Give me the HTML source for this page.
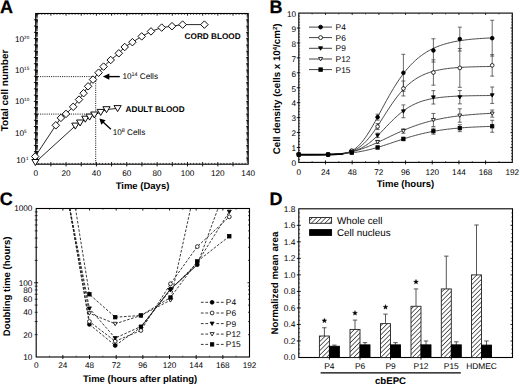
<!DOCTYPE html>
<html><head><meta charset="utf-8"><style>
html,body{margin:0;padding:0;background:#fff;}
svg{display:block;}
text{font-family:"Liberation Sans", sans-serif;fill:#000;text-rendering:geometricPrecision;}
</style></head><body>
<svg width="520" height="386" viewBox="0 0 520 386">
<rect width="520" height="386" fill="#fff"/>
<text x="0.00" y="12.90" font-size="18" font-weight="bold" text-anchor="start" stroke="#000" stroke-width="0.25">A</text>
<text x="269.60" y="12.90" font-size="18" font-weight="bold" text-anchor="start" stroke="#000" stroke-width="0.25">B</text>
<text x="-0.20" y="204.90" font-size="18" font-weight="bold" text-anchor="start" stroke="#000" stroke-width="0.25">C</text>
<text x="269.60" y="204.90" font-size="18" font-weight="bold" text-anchor="start" stroke="#000" stroke-width="0.25">D</text>
<line x1="38.74" y1="13.50" x2="38.74" y2="14.80" stroke="#222" stroke-width="0.8" />
<line x1="38.74" y1="164.20" x2="38.74" y2="162.90" stroke="#222" stroke-width="0.8" />
<line x1="41.77" y1="13.50" x2="41.77" y2="14.80" stroke="#222" stroke-width="0.8" />
<line x1="41.77" y1="164.20" x2="41.77" y2="162.90" stroke="#222" stroke-width="0.8" />
<line x1="44.81" y1="13.50" x2="44.81" y2="14.80" stroke="#222" stroke-width="0.8" />
<line x1="44.81" y1="164.20" x2="44.81" y2="162.90" stroke="#222" stroke-width="0.8" />
<line x1="47.84" y1="13.50" x2="47.84" y2="14.80" stroke="#222" stroke-width="0.8" />
<line x1="47.84" y1="164.20" x2="47.84" y2="162.90" stroke="#222" stroke-width="0.8" />
<line x1="53.91" y1="13.50" x2="53.91" y2="14.80" stroke="#222" stroke-width="0.8" />
<line x1="53.91" y1="164.20" x2="53.91" y2="162.90" stroke="#222" stroke-width="0.8" />
<line x1="56.95" y1="13.50" x2="56.95" y2="14.80" stroke="#222" stroke-width="0.8" />
<line x1="56.95" y1="164.20" x2="56.95" y2="162.90" stroke="#222" stroke-width="0.8" />
<line x1="59.99" y1="13.50" x2="59.99" y2="14.80" stroke="#222" stroke-width="0.8" />
<line x1="59.99" y1="164.20" x2="59.99" y2="162.90" stroke="#222" stroke-width="0.8" />
<line x1="63.02" y1="13.50" x2="63.02" y2="14.80" stroke="#222" stroke-width="0.8" />
<line x1="63.02" y1="164.20" x2="63.02" y2="162.90" stroke="#222" stroke-width="0.8" />
<line x1="69.09" y1="13.50" x2="69.09" y2="14.80" stroke="#222" stroke-width="0.8" />
<line x1="69.09" y1="164.20" x2="69.09" y2="162.90" stroke="#222" stroke-width="0.8" />
<line x1="72.13" y1="13.50" x2="72.13" y2="14.80" stroke="#222" stroke-width="0.8" />
<line x1="72.13" y1="164.20" x2="72.13" y2="162.90" stroke="#222" stroke-width="0.8" />
<line x1="75.16" y1="13.50" x2="75.16" y2="14.80" stroke="#222" stroke-width="0.8" />
<line x1="75.16" y1="164.20" x2="75.16" y2="162.90" stroke="#222" stroke-width="0.8" />
<line x1="78.20" y1="13.50" x2="78.20" y2="14.80" stroke="#222" stroke-width="0.8" />
<line x1="78.20" y1="164.20" x2="78.20" y2="162.90" stroke="#222" stroke-width="0.8" />
<line x1="84.27" y1="13.50" x2="84.27" y2="14.80" stroke="#222" stroke-width="0.8" />
<line x1="84.27" y1="164.20" x2="84.27" y2="162.90" stroke="#222" stroke-width="0.8" />
<line x1="87.31" y1="13.50" x2="87.31" y2="14.80" stroke="#222" stroke-width="0.8" />
<line x1="87.31" y1="164.20" x2="87.31" y2="162.90" stroke="#222" stroke-width="0.8" />
<line x1="90.34" y1="13.50" x2="90.34" y2="14.80" stroke="#222" stroke-width="0.8" />
<line x1="90.34" y1="164.20" x2="90.34" y2="162.90" stroke="#222" stroke-width="0.8" />
<line x1="93.38" y1="13.50" x2="93.38" y2="14.80" stroke="#222" stroke-width="0.8" />
<line x1="93.38" y1="164.20" x2="93.38" y2="162.90" stroke="#222" stroke-width="0.8" />
<line x1="99.45" y1="13.50" x2="99.45" y2="14.80" stroke="#222" stroke-width="0.8" />
<line x1="99.45" y1="164.20" x2="99.45" y2="162.90" stroke="#222" stroke-width="0.8" />
<line x1="102.49" y1="13.50" x2="102.49" y2="14.80" stroke="#222" stroke-width="0.8" />
<line x1="102.49" y1="164.20" x2="102.49" y2="162.90" stroke="#222" stroke-width="0.8" />
<line x1="105.52" y1="13.50" x2="105.52" y2="14.80" stroke="#222" stroke-width="0.8" />
<line x1="105.52" y1="164.20" x2="105.52" y2="162.90" stroke="#222" stroke-width="0.8" />
<line x1="108.56" y1="13.50" x2="108.56" y2="14.80" stroke="#222" stroke-width="0.8" />
<line x1="108.56" y1="164.20" x2="108.56" y2="162.90" stroke="#222" stroke-width="0.8" />
<line x1="114.63" y1="13.50" x2="114.63" y2="14.80" stroke="#222" stroke-width="0.8" />
<line x1="114.63" y1="164.20" x2="114.63" y2="162.90" stroke="#222" stroke-width="0.8" />
<line x1="117.66" y1="13.50" x2="117.66" y2="14.80" stroke="#222" stroke-width="0.8" />
<line x1="117.66" y1="164.20" x2="117.66" y2="162.90" stroke="#222" stroke-width="0.8" />
<line x1="120.70" y1="13.50" x2="120.70" y2="14.80" stroke="#222" stroke-width="0.8" />
<line x1="120.70" y1="164.20" x2="120.70" y2="162.90" stroke="#222" stroke-width="0.8" />
<line x1="123.74" y1="13.50" x2="123.74" y2="14.80" stroke="#222" stroke-width="0.8" />
<line x1="123.74" y1="164.20" x2="123.74" y2="162.90" stroke="#222" stroke-width="0.8" />
<line x1="129.81" y1="13.50" x2="129.81" y2="14.80" stroke="#222" stroke-width="0.8" />
<line x1="129.81" y1="164.20" x2="129.81" y2="162.90" stroke="#222" stroke-width="0.8" />
<line x1="132.84" y1="13.50" x2="132.84" y2="14.80" stroke="#222" stroke-width="0.8" />
<line x1="132.84" y1="164.20" x2="132.84" y2="162.90" stroke="#222" stroke-width="0.8" />
<line x1="135.88" y1="13.50" x2="135.88" y2="14.80" stroke="#222" stroke-width="0.8" />
<line x1="135.88" y1="164.20" x2="135.88" y2="162.90" stroke="#222" stroke-width="0.8" />
<line x1="138.91" y1="13.50" x2="138.91" y2="14.80" stroke="#222" stroke-width="0.8" />
<line x1="138.91" y1="164.20" x2="138.91" y2="162.90" stroke="#222" stroke-width="0.8" />
<line x1="144.99" y1="13.50" x2="144.99" y2="14.80" stroke="#222" stroke-width="0.8" />
<line x1="144.99" y1="164.20" x2="144.99" y2="162.90" stroke="#222" stroke-width="0.8" />
<line x1="148.02" y1="13.50" x2="148.02" y2="14.80" stroke="#222" stroke-width="0.8" />
<line x1="148.02" y1="164.20" x2="148.02" y2="162.90" stroke="#222" stroke-width="0.8" />
<line x1="151.06" y1="13.50" x2="151.06" y2="14.80" stroke="#222" stroke-width="0.8" />
<line x1="151.06" y1="164.20" x2="151.06" y2="162.90" stroke="#222" stroke-width="0.8" />
<line x1="154.09" y1="13.50" x2="154.09" y2="14.80" stroke="#222" stroke-width="0.8" />
<line x1="154.09" y1="164.20" x2="154.09" y2="162.90" stroke="#222" stroke-width="0.8" />
<line x1="160.16" y1="13.50" x2="160.16" y2="14.80" stroke="#222" stroke-width="0.8" />
<line x1="160.16" y1="164.20" x2="160.16" y2="162.90" stroke="#222" stroke-width="0.8" />
<line x1="163.20" y1="13.50" x2="163.20" y2="14.80" stroke="#222" stroke-width="0.8" />
<line x1="163.20" y1="164.20" x2="163.20" y2="162.90" stroke="#222" stroke-width="0.8" />
<line x1="166.24" y1="13.50" x2="166.24" y2="14.80" stroke="#222" stroke-width="0.8" />
<line x1="166.24" y1="164.20" x2="166.24" y2="162.90" stroke="#222" stroke-width="0.8" />
<line x1="169.27" y1="13.50" x2="169.27" y2="14.80" stroke="#222" stroke-width="0.8" />
<line x1="169.27" y1="164.20" x2="169.27" y2="162.90" stroke="#222" stroke-width="0.8" />
<line x1="175.34" y1="13.50" x2="175.34" y2="14.80" stroke="#222" stroke-width="0.8" />
<line x1="175.34" y1="164.20" x2="175.34" y2="162.90" stroke="#222" stroke-width="0.8" />
<line x1="178.38" y1="13.50" x2="178.38" y2="14.80" stroke="#222" stroke-width="0.8" />
<line x1="178.38" y1="164.20" x2="178.38" y2="162.90" stroke="#222" stroke-width="0.8" />
<line x1="181.41" y1="13.50" x2="181.41" y2="14.80" stroke="#222" stroke-width="0.8" />
<line x1="181.41" y1="164.20" x2="181.41" y2="162.90" stroke="#222" stroke-width="0.8" />
<line x1="184.45" y1="13.50" x2="184.45" y2="14.80" stroke="#222" stroke-width="0.8" />
<line x1="184.45" y1="164.20" x2="184.45" y2="162.90" stroke="#222" stroke-width="0.8" />
<line x1="190.52" y1="13.50" x2="190.52" y2="14.80" stroke="#222" stroke-width="0.8" />
<line x1="190.52" y1="164.20" x2="190.52" y2="162.90" stroke="#222" stroke-width="0.8" />
<line x1="193.56" y1="13.50" x2="193.56" y2="14.80" stroke="#222" stroke-width="0.8" />
<line x1="193.56" y1="164.20" x2="193.56" y2="162.90" stroke="#222" stroke-width="0.8" />
<line x1="196.59" y1="13.50" x2="196.59" y2="14.80" stroke="#222" stroke-width="0.8" />
<line x1="196.59" y1="164.20" x2="196.59" y2="162.90" stroke="#222" stroke-width="0.8" />
<line x1="199.63" y1="13.50" x2="199.63" y2="14.80" stroke="#222" stroke-width="0.8" />
<line x1="199.63" y1="164.20" x2="199.63" y2="162.90" stroke="#222" stroke-width="0.8" />
<line x1="205.70" y1="13.50" x2="205.70" y2="14.80" stroke="#222" stroke-width="0.8" />
<line x1="205.70" y1="164.20" x2="205.70" y2="162.90" stroke="#222" stroke-width="0.8" />
<line x1="208.74" y1="13.50" x2="208.74" y2="14.80" stroke="#222" stroke-width="0.8" />
<line x1="208.74" y1="164.20" x2="208.74" y2="162.90" stroke="#222" stroke-width="0.8" />
<line x1="211.77" y1="13.50" x2="211.77" y2="14.80" stroke="#222" stroke-width="0.8" />
<line x1="211.77" y1="164.20" x2="211.77" y2="162.90" stroke="#222" stroke-width="0.8" />
<line x1="214.81" y1="13.50" x2="214.81" y2="14.80" stroke="#222" stroke-width="0.8" />
<line x1="214.81" y1="164.20" x2="214.81" y2="162.90" stroke="#222" stroke-width="0.8" />
<line x1="220.88" y1="13.50" x2="220.88" y2="14.80" stroke="#222" stroke-width="0.8" />
<line x1="220.88" y1="164.20" x2="220.88" y2="162.90" stroke="#222" stroke-width="0.8" />
<line x1="223.91" y1="13.50" x2="223.91" y2="14.80" stroke="#222" stroke-width="0.8" />
<line x1="223.91" y1="164.20" x2="223.91" y2="162.90" stroke="#222" stroke-width="0.8" />
<line x1="226.95" y1="13.50" x2="226.95" y2="14.80" stroke="#222" stroke-width="0.8" />
<line x1="226.95" y1="164.20" x2="226.95" y2="162.90" stroke="#222" stroke-width="0.8" />
<line x1="229.99" y1="13.50" x2="229.99" y2="14.80" stroke="#222" stroke-width="0.8" />
<line x1="229.99" y1="164.20" x2="229.99" y2="162.90" stroke="#222" stroke-width="0.8" />
<line x1="236.06" y1="13.50" x2="236.06" y2="14.80" stroke="#222" stroke-width="0.8" />
<line x1="236.06" y1="164.20" x2="236.06" y2="162.90" stroke="#222" stroke-width="0.8" />
<line x1="239.09" y1="13.50" x2="239.09" y2="14.80" stroke="#222" stroke-width="0.8" />
<line x1="239.09" y1="164.20" x2="239.09" y2="162.90" stroke="#222" stroke-width="0.8" />
<line x1="242.13" y1="13.50" x2="242.13" y2="14.80" stroke="#222" stroke-width="0.8" />
<line x1="242.13" y1="164.20" x2="242.13" y2="162.90" stroke="#222" stroke-width="0.8" />
<line x1="245.16" y1="13.50" x2="245.16" y2="14.80" stroke="#222" stroke-width="0.8" />
<line x1="245.16" y1="164.20" x2="245.16" y2="162.90" stroke="#222" stroke-width="0.8" />
<line x1="50.88" y1="162.00" x2="50.88" y2="166.40" stroke="#000" stroke-width="0.9" />
<line x1="50.88" y1="13.50" x2="50.88" y2="15.70" stroke="#000" stroke-width="0.9" />
<line x1="66.06" y1="162.00" x2="66.06" y2="166.40" stroke="#000" stroke-width="0.9" />
<line x1="66.06" y1="13.50" x2="66.06" y2="15.70" stroke="#000" stroke-width="0.9" />
<line x1="81.24" y1="162.00" x2="81.24" y2="166.40" stroke="#000" stroke-width="0.9" />
<line x1="81.24" y1="13.50" x2="81.24" y2="15.70" stroke="#000" stroke-width="0.9" />
<line x1="96.41" y1="162.00" x2="96.41" y2="166.40" stroke="#000" stroke-width="0.9" />
<line x1="96.41" y1="13.50" x2="96.41" y2="15.70" stroke="#000" stroke-width="0.9" />
<line x1="111.59" y1="162.00" x2="111.59" y2="166.40" stroke="#000" stroke-width="0.9" />
<line x1="111.59" y1="13.50" x2="111.59" y2="15.70" stroke="#000" stroke-width="0.9" />
<line x1="126.77" y1="162.00" x2="126.77" y2="166.40" stroke="#000" stroke-width="0.9" />
<line x1="126.77" y1="13.50" x2="126.77" y2="15.70" stroke="#000" stroke-width="0.9" />
<line x1="141.95" y1="162.00" x2="141.95" y2="166.40" stroke="#000" stroke-width="0.9" />
<line x1="141.95" y1="13.50" x2="141.95" y2="15.70" stroke="#000" stroke-width="0.9" />
<line x1="157.13" y1="162.00" x2="157.13" y2="166.40" stroke="#000" stroke-width="0.9" />
<line x1="157.13" y1="13.50" x2="157.13" y2="15.70" stroke="#000" stroke-width="0.9" />
<line x1="172.31" y1="162.00" x2="172.31" y2="166.40" stroke="#000" stroke-width="0.9" />
<line x1="172.31" y1="13.50" x2="172.31" y2="15.70" stroke="#000" stroke-width="0.9" />
<line x1="187.49" y1="162.00" x2="187.49" y2="166.40" stroke="#000" stroke-width="0.9" />
<line x1="187.49" y1="13.50" x2="187.49" y2="15.70" stroke="#000" stroke-width="0.9" />
<line x1="202.66" y1="162.00" x2="202.66" y2="166.40" stroke="#000" stroke-width="0.9" />
<line x1="202.66" y1="13.50" x2="202.66" y2="15.70" stroke="#000" stroke-width="0.9" />
<line x1="217.84" y1="162.00" x2="217.84" y2="166.40" stroke="#000" stroke-width="0.9" />
<line x1="217.84" y1="13.50" x2="217.84" y2="15.70" stroke="#000" stroke-width="0.9" />
<line x1="233.02" y1="162.00" x2="233.02" y2="166.40" stroke="#000" stroke-width="0.9" />
<line x1="233.02" y1="13.50" x2="233.02" y2="15.70" stroke="#000" stroke-width="0.9" />
<line x1="35.70" y1="162.31" x2="37.80" y2="162.31" stroke="#111" stroke-width="0.75" />
<line x1="248.20" y1="162.31" x2="246.80" y2="162.31" stroke="#222" stroke-width="0.7" />
<line x1="35.70" y1="161.20" x2="37.80" y2="161.20" stroke="#111" stroke-width="0.75" />
<line x1="248.20" y1="161.20" x2="246.80" y2="161.20" stroke="#222" stroke-width="0.7" />
<line x1="35.70" y1="160.42" x2="37.80" y2="160.42" stroke="#111" stroke-width="0.75" />
<line x1="248.20" y1="160.42" x2="246.80" y2="160.42" stroke="#222" stroke-width="0.7" />
<line x1="35.70" y1="159.81" x2="37.80" y2="159.81" stroke="#111" stroke-width="0.75" />
<line x1="248.20" y1="159.81" x2="246.80" y2="159.81" stroke="#222" stroke-width="0.7" />
<line x1="35.70" y1="159.31" x2="37.80" y2="159.31" stroke="#111" stroke-width="0.75" />
<line x1="248.20" y1="159.31" x2="246.80" y2="159.31" stroke="#222" stroke-width="0.7" />
<line x1="35.70" y1="158.89" x2="37.80" y2="158.89" stroke="#111" stroke-width="0.75" />
<line x1="248.20" y1="158.89" x2="246.80" y2="158.89" stroke="#222" stroke-width="0.7" />
<line x1="35.70" y1="158.53" x2="37.80" y2="158.53" stroke="#111" stroke-width="0.75" />
<line x1="248.20" y1="158.53" x2="246.80" y2="158.53" stroke="#222" stroke-width="0.7" />
<line x1="35.70" y1="158.21" x2="37.80" y2="158.21" stroke="#111" stroke-width="0.75" />
<line x1="248.20" y1="158.21" x2="246.80" y2="158.21" stroke="#222" stroke-width="0.7" />
<line x1="35.70" y1="156.03" x2="37.80" y2="156.03" stroke="#111" stroke-width="0.75" />
<line x1="248.20" y1="156.03" x2="246.80" y2="156.03" stroke="#222" stroke-width="0.7" />
<line x1="35.70" y1="154.92" x2="37.80" y2="154.92" stroke="#111" stroke-width="0.75" />
<line x1="248.20" y1="154.92" x2="246.80" y2="154.92" stroke="#222" stroke-width="0.7" />
<line x1="35.70" y1="154.14" x2="37.80" y2="154.14" stroke="#111" stroke-width="0.75" />
<line x1="248.20" y1="154.14" x2="246.80" y2="154.14" stroke="#222" stroke-width="0.7" />
<line x1="35.70" y1="153.53" x2="37.80" y2="153.53" stroke="#111" stroke-width="0.75" />
<line x1="248.20" y1="153.53" x2="246.80" y2="153.53" stroke="#222" stroke-width="0.7" />
<line x1="35.70" y1="153.03" x2="37.80" y2="153.03" stroke="#111" stroke-width="0.75" />
<line x1="248.20" y1="153.03" x2="246.80" y2="153.03" stroke="#222" stroke-width="0.7" />
<line x1="35.70" y1="152.61" x2="37.80" y2="152.61" stroke="#111" stroke-width="0.75" />
<line x1="248.20" y1="152.61" x2="246.80" y2="152.61" stroke="#222" stroke-width="0.7" />
<line x1="35.70" y1="152.25" x2="37.80" y2="152.25" stroke="#111" stroke-width="0.75" />
<line x1="248.20" y1="152.25" x2="246.80" y2="152.25" stroke="#222" stroke-width="0.7" />
<line x1="35.70" y1="151.93" x2="37.80" y2="151.93" stroke="#111" stroke-width="0.75" />
<line x1="248.20" y1="151.93" x2="246.80" y2="151.93" stroke="#222" stroke-width="0.7" />
<line x1="35.70" y1="149.75" x2="37.80" y2="149.75" stroke="#111" stroke-width="0.75" />
<line x1="248.20" y1="149.75" x2="246.80" y2="149.75" stroke="#222" stroke-width="0.7" />
<line x1="35.70" y1="148.65" x2="37.80" y2="148.65" stroke="#111" stroke-width="0.75" />
<line x1="248.20" y1="148.65" x2="246.80" y2="148.65" stroke="#222" stroke-width="0.7" />
<line x1="35.70" y1="147.86" x2="37.80" y2="147.86" stroke="#111" stroke-width="0.75" />
<line x1="248.20" y1="147.86" x2="246.80" y2="147.86" stroke="#222" stroke-width="0.7" />
<line x1="35.70" y1="147.25" x2="37.80" y2="147.25" stroke="#111" stroke-width="0.75" />
<line x1="248.20" y1="147.25" x2="246.80" y2="147.25" stroke="#222" stroke-width="0.7" />
<line x1="35.70" y1="146.76" x2="37.80" y2="146.76" stroke="#111" stroke-width="0.75" />
<line x1="248.20" y1="146.76" x2="246.80" y2="146.76" stroke="#222" stroke-width="0.7" />
<line x1="35.70" y1="146.34" x2="37.80" y2="146.34" stroke="#111" stroke-width="0.75" />
<line x1="248.20" y1="146.34" x2="246.80" y2="146.34" stroke="#222" stroke-width="0.7" />
<line x1="35.70" y1="145.97" x2="37.80" y2="145.97" stroke="#111" stroke-width="0.75" />
<line x1="248.20" y1="145.97" x2="246.80" y2="145.97" stroke="#222" stroke-width="0.7" />
<line x1="35.70" y1="145.65" x2="37.80" y2="145.65" stroke="#111" stroke-width="0.75" />
<line x1="248.20" y1="145.65" x2="246.80" y2="145.65" stroke="#222" stroke-width="0.7" />
<line x1="35.70" y1="143.47" x2="37.80" y2="143.47" stroke="#111" stroke-width="0.75" />
<line x1="248.20" y1="143.47" x2="246.80" y2="143.47" stroke="#222" stroke-width="0.7" />
<line x1="35.70" y1="142.37" x2="37.80" y2="142.37" stroke="#111" stroke-width="0.75" />
<line x1="248.20" y1="142.37" x2="246.80" y2="142.37" stroke="#222" stroke-width="0.7" />
<line x1="35.70" y1="141.58" x2="37.80" y2="141.58" stroke="#111" stroke-width="0.75" />
<line x1="248.20" y1="141.58" x2="246.80" y2="141.58" stroke="#222" stroke-width="0.7" />
<line x1="35.70" y1="140.97" x2="37.80" y2="140.97" stroke="#111" stroke-width="0.75" />
<line x1="248.20" y1="140.97" x2="246.80" y2="140.97" stroke="#222" stroke-width="0.7" />
<line x1="35.70" y1="140.48" x2="37.80" y2="140.48" stroke="#111" stroke-width="0.75" />
<line x1="248.20" y1="140.48" x2="246.80" y2="140.48" stroke="#222" stroke-width="0.7" />
<line x1="35.70" y1="140.06" x2="37.80" y2="140.06" stroke="#111" stroke-width="0.75" />
<line x1="248.20" y1="140.06" x2="246.80" y2="140.06" stroke="#222" stroke-width="0.7" />
<line x1="35.70" y1="139.69" x2="37.80" y2="139.69" stroke="#111" stroke-width="0.75" />
<line x1="248.20" y1="139.69" x2="246.80" y2="139.69" stroke="#222" stroke-width="0.7" />
<line x1="35.70" y1="139.37" x2="37.80" y2="139.37" stroke="#111" stroke-width="0.75" />
<line x1="248.20" y1="139.37" x2="246.80" y2="139.37" stroke="#222" stroke-width="0.7" />
<line x1="35.70" y1="137.19" x2="37.80" y2="137.19" stroke="#111" stroke-width="0.75" />
<line x1="248.20" y1="137.19" x2="246.80" y2="137.19" stroke="#222" stroke-width="0.7" />
<line x1="35.70" y1="136.09" x2="37.80" y2="136.09" stroke="#111" stroke-width="0.75" />
<line x1="248.20" y1="136.09" x2="246.80" y2="136.09" stroke="#222" stroke-width="0.7" />
<line x1="35.70" y1="135.30" x2="37.80" y2="135.30" stroke="#111" stroke-width="0.75" />
<line x1="248.20" y1="135.30" x2="246.80" y2="135.30" stroke="#222" stroke-width="0.7" />
<line x1="35.70" y1="134.69" x2="37.80" y2="134.69" stroke="#111" stroke-width="0.75" />
<line x1="248.20" y1="134.69" x2="246.80" y2="134.69" stroke="#222" stroke-width="0.7" />
<line x1="35.70" y1="134.20" x2="37.80" y2="134.20" stroke="#111" stroke-width="0.75" />
<line x1="248.20" y1="134.20" x2="246.80" y2="134.20" stroke="#222" stroke-width="0.7" />
<line x1="35.70" y1="133.78" x2="37.80" y2="133.78" stroke="#111" stroke-width="0.75" />
<line x1="248.20" y1="133.78" x2="246.80" y2="133.78" stroke="#222" stroke-width="0.7" />
<line x1="35.70" y1="133.41" x2="37.80" y2="133.41" stroke="#111" stroke-width="0.75" />
<line x1="248.20" y1="133.41" x2="246.80" y2="133.41" stroke="#222" stroke-width="0.7" />
<line x1="35.70" y1="133.09" x2="37.80" y2="133.09" stroke="#111" stroke-width="0.75" />
<line x1="248.20" y1="133.09" x2="246.80" y2="133.09" stroke="#222" stroke-width="0.7" />
<line x1="35.70" y1="130.91" x2="37.80" y2="130.91" stroke="#111" stroke-width="0.75" />
<line x1="248.20" y1="130.91" x2="246.80" y2="130.91" stroke="#222" stroke-width="0.7" />
<line x1="35.70" y1="129.81" x2="37.80" y2="129.81" stroke="#111" stroke-width="0.75" />
<line x1="248.20" y1="129.81" x2="246.80" y2="129.81" stroke="#222" stroke-width="0.7" />
<line x1="35.70" y1="129.02" x2="37.80" y2="129.02" stroke="#111" stroke-width="0.75" />
<line x1="248.20" y1="129.02" x2="246.80" y2="129.02" stroke="#222" stroke-width="0.7" />
<line x1="35.70" y1="128.42" x2="37.80" y2="128.42" stroke="#111" stroke-width="0.75" />
<line x1="248.20" y1="128.42" x2="246.80" y2="128.42" stroke="#222" stroke-width="0.7" />
<line x1="35.70" y1="127.92" x2="37.80" y2="127.92" stroke="#111" stroke-width="0.75" />
<line x1="248.20" y1="127.92" x2="246.80" y2="127.92" stroke="#222" stroke-width="0.7" />
<line x1="35.70" y1="127.50" x2="37.80" y2="127.50" stroke="#111" stroke-width="0.75" />
<line x1="248.20" y1="127.50" x2="246.80" y2="127.50" stroke="#222" stroke-width="0.7" />
<line x1="35.70" y1="127.13" x2="37.80" y2="127.13" stroke="#111" stroke-width="0.75" />
<line x1="248.20" y1="127.13" x2="246.80" y2="127.13" stroke="#222" stroke-width="0.7" />
<line x1="35.70" y1="126.81" x2="37.80" y2="126.81" stroke="#111" stroke-width="0.75" />
<line x1="248.20" y1="126.81" x2="246.80" y2="126.81" stroke="#222" stroke-width="0.7" />
<line x1="35.70" y1="124.63" x2="37.80" y2="124.63" stroke="#111" stroke-width="0.75" />
<line x1="248.20" y1="124.63" x2="246.80" y2="124.63" stroke="#222" stroke-width="0.7" />
<line x1="35.70" y1="123.53" x2="37.80" y2="123.53" stroke="#111" stroke-width="0.75" />
<line x1="248.20" y1="123.53" x2="246.80" y2="123.53" stroke="#222" stroke-width="0.7" />
<line x1="35.70" y1="122.74" x2="37.80" y2="122.74" stroke="#111" stroke-width="0.75" />
<line x1="248.20" y1="122.74" x2="246.80" y2="122.74" stroke="#222" stroke-width="0.7" />
<line x1="35.70" y1="122.14" x2="37.80" y2="122.14" stroke="#111" stroke-width="0.75" />
<line x1="248.20" y1="122.14" x2="246.80" y2="122.14" stroke="#222" stroke-width="0.7" />
<line x1="35.70" y1="121.64" x2="37.80" y2="121.64" stroke="#111" stroke-width="0.75" />
<line x1="248.20" y1="121.64" x2="246.80" y2="121.64" stroke="#222" stroke-width="0.7" />
<line x1="35.70" y1="121.22" x2="37.80" y2="121.22" stroke="#111" stroke-width="0.75" />
<line x1="248.20" y1="121.22" x2="246.80" y2="121.22" stroke="#222" stroke-width="0.7" />
<line x1="35.70" y1="120.85" x2="37.80" y2="120.85" stroke="#111" stroke-width="0.75" />
<line x1="248.20" y1="120.85" x2="246.80" y2="120.85" stroke="#222" stroke-width="0.7" />
<line x1="35.70" y1="120.53" x2="37.80" y2="120.53" stroke="#111" stroke-width="0.75" />
<line x1="248.20" y1="120.53" x2="246.80" y2="120.53" stroke="#222" stroke-width="0.7" />
<line x1="35.70" y1="118.36" x2="37.80" y2="118.36" stroke="#111" stroke-width="0.75" />
<line x1="248.20" y1="118.36" x2="246.80" y2="118.36" stroke="#222" stroke-width="0.7" />
<line x1="35.70" y1="117.25" x2="37.80" y2="117.25" stroke="#111" stroke-width="0.75" />
<line x1="248.20" y1="117.25" x2="246.80" y2="117.25" stroke="#222" stroke-width="0.7" />
<line x1="35.70" y1="116.47" x2="37.80" y2="116.47" stroke="#111" stroke-width="0.75" />
<line x1="248.20" y1="116.47" x2="246.80" y2="116.47" stroke="#222" stroke-width="0.7" />
<line x1="35.70" y1="115.86" x2="37.80" y2="115.86" stroke="#111" stroke-width="0.75" />
<line x1="248.20" y1="115.86" x2="246.80" y2="115.86" stroke="#222" stroke-width="0.7" />
<line x1="35.70" y1="115.36" x2="37.80" y2="115.36" stroke="#111" stroke-width="0.75" />
<line x1="248.20" y1="115.36" x2="246.80" y2="115.36" stroke="#222" stroke-width="0.7" />
<line x1="35.70" y1="114.94" x2="37.80" y2="114.94" stroke="#111" stroke-width="0.75" />
<line x1="248.20" y1="114.94" x2="246.80" y2="114.94" stroke="#222" stroke-width="0.7" />
<line x1="35.70" y1="114.58" x2="37.80" y2="114.58" stroke="#111" stroke-width="0.75" />
<line x1="248.20" y1="114.58" x2="246.80" y2="114.58" stroke="#222" stroke-width="0.7" />
<line x1="35.70" y1="114.25" x2="37.80" y2="114.25" stroke="#111" stroke-width="0.75" />
<line x1="248.20" y1="114.25" x2="246.80" y2="114.25" stroke="#222" stroke-width="0.7" />
<line x1="35.70" y1="112.08" x2="37.80" y2="112.08" stroke="#111" stroke-width="0.75" />
<line x1="248.20" y1="112.08" x2="246.80" y2="112.08" stroke="#222" stroke-width="0.7" />
<line x1="35.70" y1="110.97" x2="37.80" y2="110.97" stroke="#111" stroke-width="0.75" />
<line x1="248.20" y1="110.97" x2="246.80" y2="110.97" stroke="#222" stroke-width="0.7" />
<line x1="35.70" y1="110.19" x2="37.80" y2="110.19" stroke="#111" stroke-width="0.75" />
<line x1="248.20" y1="110.19" x2="246.80" y2="110.19" stroke="#222" stroke-width="0.7" />
<line x1="35.70" y1="109.58" x2="37.80" y2="109.58" stroke="#111" stroke-width="0.75" />
<line x1="248.20" y1="109.58" x2="246.80" y2="109.58" stroke="#222" stroke-width="0.7" />
<line x1="35.70" y1="109.08" x2="37.80" y2="109.08" stroke="#111" stroke-width="0.75" />
<line x1="248.20" y1="109.08" x2="246.80" y2="109.08" stroke="#222" stroke-width="0.7" />
<line x1="35.70" y1="108.66" x2="37.80" y2="108.66" stroke="#111" stroke-width="0.75" />
<line x1="248.20" y1="108.66" x2="246.80" y2="108.66" stroke="#222" stroke-width="0.7" />
<line x1="35.70" y1="108.30" x2="37.80" y2="108.30" stroke="#111" stroke-width="0.75" />
<line x1="248.20" y1="108.30" x2="246.80" y2="108.30" stroke="#222" stroke-width="0.7" />
<line x1="35.70" y1="107.97" x2="37.80" y2="107.97" stroke="#111" stroke-width="0.75" />
<line x1="248.20" y1="107.97" x2="246.80" y2="107.97" stroke="#222" stroke-width="0.7" />
<line x1="35.70" y1="105.80" x2="37.80" y2="105.80" stroke="#111" stroke-width="0.75" />
<line x1="248.20" y1="105.80" x2="246.80" y2="105.80" stroke="#222" stroke-width="0.7" />
<line x1="35.70" y1="104.69" x2="37.80" y2="104.69" stroke="#111" stroke-width="0.75" />
<line x1="248.20" y1="104.69" x2="246.80" y2="104.69" stroke="#222" stroke-width="0.7" />
<line x1="35.70" y1="103.91" x2="37.80" y2="103.91" stroke="#111" stroke-width="0.75" />
<line x1="248.20" y1="103.91" x2="246.80" y2="103.91" stroke="#222" stroke-width="0.7" />
<line x1="35.70" y1="103.30" x2="37.80" y2="103.30" stroke="#111" stroke-width="0.75" />
<line x1="248.20" y1="103.30" x2="246.80" y2="103.30" stroke="#222" stroke-width="0.7" />
<line x1="35.70" y1="102.80" x2="37.80" y2="102.80" stroke="#111" stroke-width="0.75" />
<line x1="248.20" y1="102.80" x2="246.80" y2="102.80" stroke="#222" stroke-width="0.7" />
<line x1="35.70" y1="102.38" x2="37.80" y2="102.38" stroke="#111" stroke-width="0.75" />
<line x1="248.20" y1="102.38" x2="246.80" y2="102.38" stroke="#222" stroke-width="0.7" />
<line x1="35.70" y1="102.02" x2="37.80" y2="102.02" stroke="#111" stroke-width="0.75" />
<line x1="248.20" y1="102.02" x2="246.80" y2="102.02" stroke="#222" stroke-width="0.7" />
<line x1="35.70" y1="101.70" x2="37.80" y2="101.70" stroke="#111" stroke-width="0.75" />
<line x1="248.20" y1="101.70" x2="246.80" y2="101.70" stroke="#222" stroke-width="0.7" />
<line x1="35.70" y1="99.52" x2="37.80" y2="99.52" stroke="#111" stroke-width="0.75" />
<line x1="248.20" y1="99.52" x2="246.80" y2="99.52" stroke="#222" stroke-width="0.7" />
<line x1="35.70" y1="98.41" x2="37.80" y2="98.41" stroke="#111" stroke-width="0.75" />
<line x1="248.20" y1="98.41" x2="246.80" y2="98.41" stroke="#222" stroke-width="0.7" />
<line x1="35.70" y1="97.63" x2="37.80" y2="97.63" stroke="#111" stroke-width="0.75" />
<line x1="248.20" y1="97.63" x2="246.80" y2="97.63" stroke="#222" stroke-width="0.7" />
<line x1="35.70" y1="97.02" x2="37.80" y2="97.02" stroke="#111" stroke-width="0.75" />
<line x1="248.20" y1="97.02" x2="246.80" y2="97.02" stroke="#222" stroke-width="0.7" />
<line x1="35.70" y1="96.52" x2="37.80" y2="96.52" stroke="#111" stroke-width="0.75" />
<line x1="248.20" y1="96.52" x2="246.80" y2="96.52" stroke="#222" stroke-width="0.7" />
<line x1="35.70" y1="96.10" x2="37.80" y2="96.10" stroke="#111" stroke-width="0.75" />
<line x1="248.20" y1="96.10" x2="246.80" y2="96.10" stroke="#222" stroke-width="0.7" />
<line x1="35.70" y1="95.74" x2="37.80" y2="95.74" stroke="#111" stroke-width="0.75" />
<line x1="248.20" y1="95.74" x2="246.80" y2="95.74" stroke="#222" stroke-width="0.7" />
<line x1="35.70" y1="95.42" x2="37.80" y2="95.42" stroke="#111" stroke-width="0.75" />
<line x1="248.20" y1="95.42" x2="246.80" y2="95.42" stroke="#222" stroke-width="0.7" />
<line x1="35.70" y1="93.24" x2="37.80" y2="93.24" stroke="#111" stroke-width="0.75" />
<line x1="248.20" y1="93.24" x2="246.80" y2="93.24" stroke="#222" stroke-width="0.7" />
<line x1="35.70" y1="92.13" x2="37.80" y2="92.13" stroke="#111" stroke-width="0.75" />
<line x1="248.20" y1="92.13" x2="246.80" y2="92.13" stroke="#222" stroke-width="0.7" />
<line x1="35.70" y1="91.35" x2="37.80" y2="91.35" stroke="#111" stroke-width="0.75" />
<line x1="248.20" y1="91.35" x2="246.80" y2="91.35" stroke="#222" stroke-width="0.7" />
<line x1="35.70" y1="90.74" x2="37.80" y2="90.74" stroke="#111" stroke-width="0.75" />
<line x1="248.20" y1="90.74" x2="246.80" y2="90.74" stroke="#222" stroke-width="0.7" />
<line x1="35.70" y1="90.24" x2="37.80" y2="90.24" stroke="#111" stroke-width="0.75" />
<line x1="248.20" y1="90.24" x2="246.80" y2="90.24" stroke="#222" stroke-width="0.7" />
<line x1="35.70" y1="89.82" x2="37.80" y2="89.82" stroke="#111" stroke-width="0.75" />
<line x1="248.20" y1="89.82" x2="246.80" y2="89.82" stroke="#222" stroke-width="0.7" />
<line x1="35.70" y1="89.46" x2="37.80" y2="89.46" stroke="#111" stroke-width="0.75" />
<line x1="248.20" y1="89.46" x2="246.80" y2="89.46" stroke="#222" stroke-width="0.7" />
<line x1="35.70" y1="89.14" x2="37.80" y2="89.14" stroke="#111" stroke-width="0.75" />
<line x1="248.20" y1="89.14" x2="246.80" y2="89.14" stroke="#222" stroke-width="0.7" />
<line x1="35.70" y1="86.96" x2="37.80" y2="86.96" stroke="#111" stroke-width="0.75" />
<line x1="248.20" y1="86.96" x2="246.80" y2="86.96" stroke="#222" stroke-width="0.7" />
<line x1="35.70" y1="85.85" x2="37.80" y2="85.85" stroke="#111" stroke-width="0.75" />
<line x1="248.20" y1="85.85" x2="246.80" y2="85.85" stroke="#222" stroke-width="0.7" />
<line x1="35.70" y1="85.07" x2="37.80" y2="85.07" stroke="#111" stroke-width="0.75" />
<line x1="248.20" y1="85.07" x2="246.80" y2="85.07" stroke="#222" stroke-width="0.7" />
<line x1="35.70" y1="84.46" x2="37.80" y2="84.46" stroke="#111" stroke-width="0.75" />
<line x1="248.20" y1="84.46" x2="246.80" y2="84.46" stroke="#222" stroke-width="0.7" />
<line x1="35.70" y1="83.96" x2="37.80" y2="83.96" stroke="#111" stroke-width="0.75" />
<line x1="248.20" y1="83.96" x2="246.80" y2="83.96" stroke="#222" stroke-width="0.7" />
<line x1="35.70" y1="83.54" x2="37.80" y2="83.54" stroke="#111" stroke-width="0.75" />
<line x1="248.20" y1="83.54" x2="246.80" y2="83.54" stroke="#222" stroke-width="0.7" />
<line x1="35.70" y1="83.18" x2="37.80" y2="83.18" stroke="#111" stroke-width="0.75" />
<line x1="248.20" y1="83.18" x2="246.80" y2="83.18" stroke="#222" stroke-width="0.7" />
<line x1="35.70" y1="82.86" x2="37.80" y2="82.86" stroke="#111" stroke-width="0.75" />
<line x1="248.20" y1="82.86" x2="246.80" y2="82.86" stroke="#222" stroke-width="0.7" />
<line x1="35.70" y1="80.68" x2="37.80" y2="80.68" stroke="#111" stroke-width="0.75" />
<line x1="248.20" y1="80.68" x2="246.80" y2="80.68" stroke="#222" stroke-width="0.7" />
<line x1="35.70" y1="79.57" x2="37.80" y2="79.57" stroke="#111" stroke-width="0.75" />
<line x1="248.20" y1="79.57" x2="246.80" y2="79.57" stroke="#222" stroke-width="0.7" />
<line x1="35.70" y1="78.79" x2="37.80" y2="78.79" stroke="#111" stroke-width="0.75" />
<line x1="248.20" y1="78.79" x2="246.80" y2="78.79" stroke="#222" stroke-width="0.7" />
<line x1="35.70" y1="78.18" x2="37.80" y2="78.18" stroke="#111" stroke-width="0.75" />
<line x1="248.20" y1="78.18" x2="246.80" y2="78.18" stroke="#222" stroke-width="0.7" />
<line x1="35.70" y1="77.68" x2="37.80" y2="77.68" stroke="#111" stroke-width="0.75" />
<line x1="248.20" y1="77.68" x2="246.80" y2="77.68" stroke="#222" stroke-width="0.7" />
<line x1="35.70" y1="77.26" x2="37.80" y2="77.26" stroke="#111" stroke-width="0.75" />
<line x1="248.20" y1="77.26" x2="246.80" y2="77.26" stroke="#222" stroke-width="0.7" />
<line x1="35.70" y1="76.90" x2="37.80" y2="76.90" stroke="#111" stroke-width="0.75" />
<line x1="248.20" y1="76.90" x2="246.80" y2="76.90" stroke="#222" stroke-width="0.7" />
<line x1="35.70" y1="76.58" x2="37.80" y2="76.58" stroke="#111" stroke-width="0.75" />
<line x1="248.20" y1="76.58" x2="246.80" y2="76.58" stroke="#222" stroke-width="0.7" />
<line x1="35.70" y1="74.40" x2="37.80" y2="74.40" stroke="#111" stroke-width="0.75" />
<line x1="248.20" y1="74.40" x2="246.80" y2="74.40" stroke="#222" stroke-width="0.7" />
<line x1="35.70" y1="73.30" x2="37.80" y2="73.30" stroke="#111" stroke-width="0.75" />
<line x1="248.20" y1="73.30" x2="246.80" y2="73.30" stroke="#222" stroke-width="0.7" />
<line x1="35.70" y1="72.51" x2="37.80" y2="72.51" stroke="#111" stroke-width="0.75" />
<line x1="248.20" y1="72.51" x2="246.80" y2="72.51" stroke="#222" stroke-width="0.7" />
<line x1="35.70" y1="71.90" x2="37.80" y2="71.90" stroke="#111" stroke-width="0.75" />
<line x1="248.20" y1="71.90" x2="246.80" y2="71.90" stroke="#222" stroke-width="0.7" />
<line x1="35.70" y1="71.41" x2="37.80" y2="71.41" stroke="#111" stroke-width="0.75" />
<line x1="248.20" y1="71.41" x2="246.80" y2="71.41" stroke="#222" stroke-width="0.7" />
<line x1="35.70" y1="70.99" x2="37.80" y2="70.99" stroke="#111" stroke-width="0.75" />
<line x1="248.20" y1="70.99" x2="246.80" y2="70.99" stroke="#222" stroke-width="0.7" />
<line x1="35.70" y1="70.62" x2="37.80" y2="70.62" stroke="#111" stroke-width="0.75" />
<line x1="248.20" y1="70.62" x2="246.80" y2="70.62" stroke="#222" stroke-width="0.7" />
<line x1="35.70" y1="70.30" x2="37.80" y2="70.30" stroke="#111" stroke-width="0.75" />
<line x1="248.20" y1="70.30" x2="246.80" y2="70.30" stroke="#222" stroke-width="0.7" />
<line x1="35.70" y1="68.12" x2="37.80" y2="68.12" stroke="#111" stroke-width="0.75" />
<line x1="248.20" y1="68.12" x2="246.80" y2="68.12" stroke="#222" stroke-width="0.7" />
<line x1="35.70" y1="67.02" x2="37.80" y2="67.02" stroke="#111" stroke-width="0.75" />
<line x1="248.20" y1="67.02" x2="246.80" y2="67.02" stroke="#222" stroke-width="0.7" />
<line x1="35.70" y1="66.23" x2="37.80" y2="66.23" stroke="#111" stroke-width="0.75" />
<line x1="248.20" y1="66.23" x2="246.80" y2="66.23" stroke="#222" stroke-width="0.7" />
<line x1="35.70" y1="65.62" x2="37.80" y2="65.62" stroke="#111" stroke-width="0.75" />
<line x1="248.20" y1="65.62" x2="246.80" y2="65.62" stroke="#222" stroke-width="0.7" />
<line x1="35.70" y1="65.13" x2="37.80" y2="65.13" stroke="#111" stroke-width="0.75" />
<line x1="248.20" y1="65.13" x2="246.80" y2="65.13" stroke="#222" stroke-width="0.7" />
<line x1="35.70" y1="64.71" x2="37.80" y2="64.71" stroke="#111" stroke-width="0.75" />
<line x1="248.20" y1="64.71" x2="246.80" y2="64.71" stroke="#222" stroke-width="0.7" />
<line x1="35.70" y1="64.34" x2="37.80" y2="64.34" stroke="#111" stroke-width="0.75" />
<line x1="248.20" y1="64.34" x2="246.80" y2="64.34" stroke="#222" stroke-width="0.7" />
<line x1="35.70" y1="64.02" x2="37.80" y2="64.02" stroke="#111" stroke-width="0.75" />
<line x1="248.20" y1="64.02" x2="246.80" y2="64.02" stroke="#222" stroke-width="0.7" />
<line x1="35.70" y1="61.84" x2="37.80" y2="61.84" stroke="#111" stroke-width="0.75" />
<line x1="248.20" y1="61.84" x2="246.80" y2="61.84" stroke="#222" stroke-width="0.7" />
<line x1="35.70" y1="60.74" x2="37.80" y2="60.74" stroke="#111" stroke-width="0.75" />
<line x1="248.20" y1="60.74" x2="246.80" y2="60.74" stroke="#222" stroke-width="0.7" />
<line x1="35.70" y1="59.95" x2="37.80" y2="59.95" stroke="#111" stroke-width="0.75" />
<line x1="248.20" y1="59.95" x2="246.80" y2="59.95" stroke="#222" stroke-width="0.7" />
<line x1="35.70" y1="59.34" x2="37.80" y2="59.34" stroke="#111" stroke-width="0.75" />
<line x1="248.20" y1="59.34" x2="246.80" y2="59.34" stroke="#222" stroke-width="0.7" />
<line x1="35.70" y1="58.85" x2="37.80" y2="58.85" stroke="#111" stroke-width="0.75" />
<line x1="248.20" y1="58.85" x2="246.80" y2="58.85" stroke="#222" stroke-width="0.7" />
<line x1="35.70" y1="58.43" x2="37.80" y2="58.43" stroke="#111" stroke-width="0.75" />
<line x1="248.20" y1="58.43" x2="246.80" y2="58.43" stroke="#222" stroke-width="0.7" />
<line x1="35.70" y1="58.06" x2="37.80" y2="58.06" stroke="#111" stroke-width="0.75" />
<line x1="248.20" y1="58.06" x2="246.80" y2="58.06" stroke="#222" stroke-width="0.7" />
<line x1="35.70" y1="57.74" x2="37.80" y2="57.74" stroke="#111" stroke-width="0.75" />
<line x1="248.20" y1="57.74" x2="246.80" y2="57.74" stroke="#222" stroke-width="0.7" />
<line x1="35.70" y1="55.56" x2="37.80" y2="55.56" stroke="#111" stroke-width="0.75" />
<line x1="248.20" y1="55.56" x2="246.80" y2="55.56" stroke="#222" stroke-width="0.7" />
<line x1="35.70" y1="54.46" x2="37.80" y2="54.46" stroke="#111" stroke-width="0.75" />
<line x1="248.20" y1="54.46" x2="246.80" y2="54.46" stroke="#222" stroke-width="0.7" />
<line x1="35.70" y1="53.67" x2="37.80" y2="53.67" stroke="#111" stroke-width="0.75" />
<line x1="248.20" y1="53.67" x2="246.80" y2="53.67" stroke="#222" stroke-width="0.7" />
<line x1="35.70" y1="53.07" x2="37.80" y2="53.07" stroke="#111" stroke-width="0.75" />
<line x1="248.20" y1="53.07" x2="246.80" y2="53.07" stroke="#222" stroke-width="0.7" />
<line x1="35.70" y1="52.57" x2="37.80" y2="52.57" stroke="#111" stroke-width="0.75" />
<line x1="248.20" y1="52.57" x2="246.80" y2="52.57" stroke="#222" stroke-width="0.7" />
<line x1="35.70" y1="52.15" x2="37.80" y2="52.15" stroke="#111" stroke-width="0.75" />
<line x1="248.20" y1="52.15" x2="246.80" y2="52.15" stroke="#222" stroke-width="0.7" />
<line x1="35.70" y1="51.78" x2="37.80" y2="51.78" stroke="#111" stroke-width="0.75" />
<line x1="248.20" y1="51.78" x2="246.80" y2="51.78" stroke="#222" stroke-width="0.7" />
<line x1="35.70" y1="51.46" x2="37.80" y2="51.46" stroke="#111" stroke-width="0.75" />
<line x1="248.20" y1="51.46" x2="246.80" y2="51.46" stroke="#222" stroke-width="0.7" />
<line x1="35.70" y1="49.28" x2="37.80" y2="49.28" stroke="#111" stroke-width="0.75" />
<line x1="248.20" y1="49.28" x2="246.80" y2="49.28" stroke="#222" stroke-width="0.7" />
<line x1="35.70" y1="48.18" x2="37.80" y2="48.18" stroke="#111" stroke-width="0.75" />
<line x1="248.20" y1="48.18" x2="246.80" y2="48.18" stroke="#222" stroke-width="0.7" />
<line x1="35.70" y1="47.39" x2="37.80" y2="47.39" stroke="#111" stroke-width="0.75" />
<line x1="248.20" y1="47.39" x2="246.80" y2="47.39" stroke="#222" stroke-width="0.7" />
<line x1="35.70" y1="46.79" x2="37.80" y2="46.79" stroke="#111" stroke-width="0.75" />
<line x1="248.20" y1="46.79" x2="246.80" y2="46.79" stroke="#222" stroke-width="0.7" />
<line x1="35.70" y1="46.29" x2="37.80" y2="46.29" stroke="#111" stroke-width="0.75" />
<line x1="248.20" y1="46.29" x2="246.80" y2="46.29" stroke="#222" stroke-width="0.7" />
<line x1="35.70" y1="45.87" x2="37.80" y2="45.87" stroke="#111" stroke-width="0.75" />
<line x1="248.20" y1="45.87" x2="246.80" y2="45.87" stroke="#222" stroke-width="0.7" />
<line x1="35.70" y1="45.50" x2="37.80" y2="45.50" stroke="#111" stroke-width="0.75" />
<line x1="248.20" y1="45.50" x2="246.80" y2="45.50" stroke="#222" stroke-width="0.7" />
<line x1="35.70" y1="45.18" x2="37.80" y2="45.18" stroke="#111" stroke-width="0.75" />
<line x1="248.20" y1="45.18" x2="246.80" y2="45.18" stroke="#222" stroke-width="0.7" />
<line x1="35.70" y1="43.01" x2="37.80" y2="43.01" stroke="#111" stroke-width="0.75" />
<line x1="248.20" y1="43.01" x2="246.80" y2="43.01" stroke="#222" stroke-width="0.7" />
<line x1="35.70" y1="41.90" x2="37.80" y2="41.90" stroke="#111" stroke-width="0.75" />
<line x1="248.20" y1="41.90" x2="246.80" y2="41.90" stroke="#222" stroke-width="0.7" />
<line x1="35.70" y1="41.12" x2="37.80" y2="41.12" stroke="#111" stroke-width="0.75" />
<line x1="248.20" y1="41.12" x2="246.80" y2="41.12" stroke="#222" stroke-width="0.7" />
<line x1="35.70" y1="40.51" x2="37.80" y2="40.51" stroke="#111" stroke-width="0.75" />
<line x1="248.20" y1="40.51" x2="246.80" y2="40.51" stroke="#222" stroke-width="0.7" />
<line x1="35.70" y1="40.01" x2="37.80" y2="40.01" stroke="#111" stroke-width="0.75" />
<line x1="248.20" y1="40.01" x2="246.80" y2="40.01" stroke="#222" stroke-width="0.7" />
<line x1="35.70" y1="39.59" x2="37.80" y2="39.59" stroke="#111" stroke-width="0.75" />
<line x1="248.20" y1="39.59" x2="246.80" y2="39.59" stroke="#222" stroke-width="0.7" />
<line x1="35.70" y1="39.23" x2="37.80" y2="39.23" stroke="#111" stroke-width="0.75" />
<line x1="248.20" y1="39.23" x2="246.80" y2="39.23" stroke="#222" stroke-width="0.7" />
<line x1="35.70" y1="38.90" x2="37.80" y2="38.90" stroke="#111" stroke-width="0.75" />
<line x1="248.20" y1="38.90" x2="246.80" y2="38.90" stroke="#222" stroke-width="0.7" />
<line x1="35.70" y1="36.73" x2="37.80" y2="36.73" stroke="#111" stroke-width="0.75" />
<line x1="248.20" y1="36.73" x2="246.80" y2="36.73" stroke="#222" stroke-width="0.7" />
<line x1="35.70" y1="35.62" x2="37.80" y2="35.62" stroke="#111" stroke-width="0.75" />
<line x1="248.20" y1="35.62" x2="246.80" y2="35.62" stroke="#222" stroke-width="0.7" />
<line x1="35.70" y1="34.84" x2="37.80" y2="34.84" stroke="#111" stroke-width="0.75" />
<line x1="248.20" y1="34.84" x2="246.80" y2="34.84" stroke="#222" stroke-width="0.7" />
<line x1="35.70" y1="34.23" x2="37.80" y2="34.23" stroke="#111" stroke-width="0.75" />
<line x1="248.20" y1="34.23" x2="246.80" y2="34.23" stroke="#222" stroke-width="0.7" />
<line x1="35.70" y1="33.73" x2="37.80" y2="33.73" stroke="#111" stroke-width="0.75" />
<line x1="248.20" y1="33.73" x2="246.80" y2="33.73" stroke="#222" stroke-width="0.7" />
<line x1="35.70" y1="33.31" x2="37.80" y2="33.31" stroke="#111" stroke-width="0.75" />
<line x1="248.20" y1="33.31" x2="246.80" y2="33.31" stroke="#222" stroke-width="0.7" />
<line x1="35.70" y1="32.95" x2="37.80" y2="32.95" stroke="#111" stroke-width="0.75" />
<line x1="248.20" y1="32.95" x2="246.80" y2="32.95" stroke="#222" stroke-width="0.7" />
<line x1="35.70" y1="32.62" x2="37.80" y2="32.62" stroke="#111" stroke-width="0.75" />
<line x1="248.20" y1="32.62" x2="246.80" y2="32.62" stroke="#222" stroke-width="0.7" />
<line x1="35.70" y1="30.45" x2="37.80" y2="30.45" stroke="#111" stroke-width="0.75" />
<line x1="248.20" y1="30.45" x2="246.80" y2="30.45" stroke="#222" stroke-width="0.7" />
<line x1="35.70" y1="29.34" x2="37.80" y2="29.34" stroke="#111" stroke-width="0.75" />
<line x1="248.20" y1="29.34" x2="246.80" y2="29.34" stroke="#222" stroke-width="0.7" />
<line x1="35.70" y1="28.56" x2="37.80" y2="28.56" stroke="#111" stroke-width="0.75" />
<line x1="248.20" y1="28.56" x2="246.80" y2="28.56" stroke="#222" stroke-width="0.7" />
<line x1="35.70" y1="27.95" x2="37.80" y2="27.95" stroke="#111" stroke-width="0.75" />
<line x1="248.20" y1="27.95" x2="246.80" y2="27.95" stroke="#222" stroke-width="0.7" />
<line x1="35.70" y1="27.45" x2="37.80" y2="27.45" stroke="#111" stroke-width="0.75" />
<line x1="248.20" y1="27.45" x2="246.80" y2="27.45" stroke="#222" stroke-width="0.7" />
<line x1="35.70" y1="27.03" x2="37.80" y2="27.03" stroke="#111" stroke-width="0.75" />
<line x1="248.20" y1="27.03" x2="246.80" y2="27.03" stroke="#222" stroke-width="0.7" />
<line x1="35.70" y1="26.67" x2="37.80" y2="26.67" stroke="#111" stroke-width="0.75" />
<line x1="248.20" y1="26.67" x2="246.80" y2="26.67" stroke="#222" stroke-width="0.7" />
<line x1="35.70" y1="26.35" x2="37.80" y2="26.35" stroke="#111" stroke-width="0.75" />
<line x1="248.20" y1="26.35" x2="246.80" y2="26.35" stroke="#222" stroke-width="0.7" />
<line x1="35.70" y1="24.17" x2="37.80" y2="24.17" stroke="#111" stroke-width="0.75" />
<line x1="248.20" y1="24.17" x2="246.80" y2="24.17" stroke="#222" stroke-width="0.7" />
<line x1="35.70" y1="23.06" x2="37.80" y2="23.06" stroke="#111" stroke-width="0.75" />
<line x1="248.20" y1="23.06" x2="246.80" y2="23.06" stroke="#222" stroke-width="0.7" />
<line x1="35.70" y1="22.28" x2="37.80" y2="22.28" stroke="#111" stroke-width="0.75" />
<line x1="248.20" y1="22.28" x2="246.80" y2="22.28" stroke="#222" stroke-width="0.7" />
<line x1="35.70" y1="21.67" x2="37.80" y2="21.67" stroke="#111" stroke-width="0.75" />
<line x1="248.20" y1="21.67" x2="246.80" y2="21.67" stroke="#222" stroke-width="0.7" />
<line x1="35.70" y1="21.17" x2="37.80" y2="21.17" stroke="#111" stroke-width="0.75" />
<line x1="248.20" y1="21.17" x2="246.80" y2="21.17" stroke="#222" stroke-width="0.7" />
<line x1="35.70" y1="20.75" x2="37.80" y2="20.75" stroke="#111" stroke-width="0.75" />
<line x1="248.20" y1="20.75" x2="246.80" y2="20.75" stroke="#222" stroke-width="0.7" />
<line x1="35.70" y1="20.39" x2="37.80" y2="20.39" stroke="#111" stroke-width="0.75" />
<line x1="248.20" y1="20.39" x2="246.80" y2="20.39" stroke="#222" stroke-width="0.7" />
<line x1="35.70" y1="20.07" x2="37.80" y2="20.07" stroke="#111" stroke-width="0.75" />
<line x1="248.20" y1="20.07" x2="246.80" y2="20.07" stroke="#222" stroke-width="0.7" />
<line x1="35.70" y1="17.89" x2="37.80" y2="17.89" stroke="#111" stroke-width="0.75" />
<line x1="248.20" y1="17.89" x2="246.80" y2="17.89" stroke="#222" stroke-width="0.7" />
<line x1="35.70" y1="16.78" x2="37.80" y2="16.78" stroke="#111" stroke-width="0.75" />
<line x1="248.20" y1="16.78" x2="246.80" y2="16.78" stroke="#222" stroke-width="0.7" />
<line x1="35.70" y1="16.00" x2="37.80" y2="16.00" stroke="#111" stroke-width="0.75" />
<line x1="248.20" y1="16.00" x2="246.80" y2="16.00" stroke="#222" stroke-width="0.7" />
<line x1="35.70" y1="15.39" x2="37.80" y2="15.39" stroke="#111" stroke-width="0.75" />
<line x1="248.20" y1="15.39" x2="246.80" y2="15.39" stroke="#222" stroke-width="0.7" />
<line x1="35.70" y1="14.89" x2="37.80" y2="14.89" stroke="#111" stroke-width="0.75" />
<line x1="248.20" y1="14.89" x2="246.80" y2="14.89" stroke="#222" stroke-width="0.7" />
<line x1="35.70" y1="14.47" x2="37.80" y2="14.47" stroke="#111" stroke-width="0.75" />
<line x1="248.20" y1="14.47" x2="246.80" y2="14.47" stroke="#222" stroke-width="0.7" />
<line x1="35.70" y1="14.11" x2="37.80" y2="14.11" stroke="#111" stroke-width="0.75" />
<line x1="248.20" y1="14.11" x2="246.80" y2="14.11" stroke="#222" stroke-width="0.7" />
<line x1="35.70" y1="13.79" x2="37.80" y2="13.79" stroke="#111" stroke-width="0.75" />
<line x1="248.20" y1="13.79" x2="246.80" y2="13.79" stroke="#222" stroke-width="0.7" />
<line x1="33.90" y1="157.92" x2="37.90" y2="157.92" stroke="#000" stroke-width="0.9" />
<line x1="246.20" y1="157.92" x2="248.20" y2="157.92" stroke="#000" stroke-width="0.9" />
<line x1="33.90" y1="151.64" x2="37.90" y2="151.64" stroke="#000" stroke-width="0.9" />
<line x1="246.20" y1="151.64" x2="248.20" y2="151.64" stroke="#000" stroke-width="0.9" />
<line x1="33.90" y1="145.36" x2="37.90" y2="145.36" stroke="#000" stroke-width="0.9" />
<line x1="246.20" y1="145.36" x2="248.20" y2="145.36" stroke="#000" stroke-width="0.9" />
<line x1="33.90" y1="139.08" x2="37.90" y2="139.08" stroke="#000" stroke-width="0.9" />
<line x1="246.20" y1="139.08" x2="248.20" y2="139.08" stroke="#000" stroke-width="0.9" />
<line x1="33.90" y1="132.80" x2="37.90" y2="132.80" stroke="#000" stroke-width="0.9" />
<line x1="246.20" y1="132.80" x2="248.20" y2="132.80" stroke="#000" stroke-width="0.9" />
<line x1="33.90" y1="126.52" x2="37.90" y2="126.52" stroke="#000" stroke-width="0.9" />
<line x1="246.20" y1="126.52" x2="248.20" y2="126.52" stroke="#000" stroke-width="0.9" />
<line x1="33.90" y1="120.25" x2="37.90" y2="120.25" stroke="#000" stroke-width="0.9" />
<line x1="246.20" y1="120.25" x2="248.20" y2="120.25" stroke="#000" stroke-width="0.9" />
<line x1="33.90" y1="113.97" x2="37.90" y2="113.97" stroke="#000" stroke-width="0.9" />
<line x1="246.20" y1="113.97" x2="248.20" y2="113.97" stroke="#000" stroke-width="0.9" />
<line x1="33.90" y1="107.69" x2="37.90" y2="107.69" stroke="#000" stroke-width="0.9" />
<line x1="246.20" y1="107.69" x2="248.20" y2="107.69" stroke="#000" stroke-width="0.9" />
<line x1="33.90" y1="101.41" x2="37.90" y2="101.41" stroke="#000" stroke-width="0.9" />
<line x1="246.20" y1="101.41" x2="248.20" y2="101.41" stroke="#000" stroke-width="0.9" />
<line x1="33.90" y1="95.13" x2="37.90" y2="95.13" stroke="#000" stroke-width="0.9" />
<line x1="246.20" y1="95.13" x2="248.20" y2="95.13" stroke="#000" stroke-width="0.9" />
<line x1="33.90" y1="88.85" x2="37.90" y2="88.85" stroke="#000" stroke-width="0.9" />
<line x1="246.20" y1="88.85" x2="248.20" y2="88.85" stroke="#000" stroke-width="0.9" />
<line x1="33.90" y1="82.57" x2="37.90" y2="82.57" stroke="#000" stroke-width="0.9" />
<line x1="246.20" y1="82.57" x2="248.20" y2="82.57" stroke="#000" stroke-width="0.9" />
<line x1="33.90" y1="76.29" x2="37.90" y2="76.29" stroke="#000" stroke-width="0.9" />
<line x1="246.20" y1="76.29" x2="248.20" y2="76.29" stroke="#000" stroke-width="0.9" />
<line x1="33.90" y1="70.01" x2="37.90" y2="70.01" stroke="#000" stroke-width="0.9" />
<line x1="246.20" y1="70.01" x2="248.20" y2="70.01" stroke="#000" stroke-width="0.9" />
<line x1="33.90" y1="63.73" x2="37.90" y2="63.73" stroke="#000" stroke-width="0.9" />
<line x1="246.20" y1="63.73" x2="248.20" y2="63.73" stroke="#000" stroke-width="0.9" />
<line x1="33.90" y1="57.45" x2="37.90" y2="57.45" stroke="#000" stroke-width="0.9" />
<line x1="246.20" y1="57.45" x2="248.20" y2="57.45" stroke="#000" stroke-width="0.9" />
<line x1="33.90" y1="51.17" x2="37.90" y2="51.17" stroke="#000" stroke-width="0.9" />
<line x1="246.20" y1="51.17" x2="248.20" y2="51.17" stroke="#000" stroke-width="0.9" />
<line x1="33.90" y1="44.90" x2="37.90" y2="44.90" stroke="#000" stroke-width="0.9" />
<line x1="246.20" y1="44.90" x2="248.20" y2="44.90" stroke="#000" stroke-width="0.9" />
<line x1="33.90" y1="38.62" x2="37.90" y2="38.62" stroke="#000" stroke-width="0.9" />
<line x1="246.20" y1="38.62" x2="248.20" y2="38.62" stroke="#000" stroke-width="0.9" />
<line x1="33.90" y1="32.34" x2="37.90" y2="32.34" stroke="#000" stroke-width="0.9" />
<line x1="246.20" y1="32.34" x2="248.20" y2="32.34" stroke="#000" stroke-width="0.9" />
<line x1="33.90" y1="26.06" x2="37.90" y2="26.06" stroke="#000" stroke-width="0.9" />
<line x1="246.20" y1="26.06" x2="248.20" y2="26.06" stroke="#000" stroke-width="0.9" />
<line x1="33.90" y1="19.78" x2="37.90" y2="19.78" stroke="#000" stroke-width="0.9" />
<line x1="246.20" y1="19.78" x2="248.20" y2="19.78" stroke="#000" stroke-width="0.9" />
<rect x="35.70" y="13.50" width="212.50" height="150.70" fill="none" stroke="#000" stroke-width="1.1" />
<text x="35.70" y="176.10" font-size="8.2" font-weight="normal" text-anchor="middle" >0</text>
<text x="66.06" y="176.10" font-size="8.2" font-weight="normal" text-anchor="middle" >20</text>
<text x="96.41" y="176.10" font-size="8.2" font-weight="normal" text-anchor="middle" >40</text>
<text x="126.77" y="176.10" font-size="8.2" font-weight="normal" text-anchor="middle" >60</text>
<text x="157.13" y="176.10" font-size="8.2" font-weight="normal" text-anchor="middle" >80</text>
<text x="187.49" y="176.10" font-size="8.2" font-weight="normal" text-anchor="middle" >100</text>
<text x="217.84" y="176.10" font-size="8.2" font-weight="normal" text-anchor="middle" >120</text>
<text x="248.20" y="176.10" font-size="8.2" font-weight="normal" text-anchor="middle" >140</text>
<text x="15.0" y="41.67" font-size="8.2">10<tspan dy="-3.0" font-size="4.6">20</tspan></text>
<text x="15.0" y="73.06" font-size="8.2">10<tspan dy="-3.0" font-size="4.6">15</tspan></text>
<text x="15.0" y="104.46" font-size="8.2">10<tspan dy="-3.0" font-size="4.6">10</tspan></text>
<text x="15.0" y="135.85" font-size="8.2">10<tspan dy="-3.0" font-size="4.6">5</tspan></text>
<text x="16.3" y="163.30" font-size="8.2">10<tspan dx="0.6" dy="-3.0" font-size="4.6">1</tspan></text>
<text x="142.50" y="188.50" font-size="9.5" font-weight="bold" text-anchor="middle" >Time (Days)</text>
<text transform="translate(8.1,90.5) rotate(-90)" font-size="9.95" font-weight="bold" text-anchor="middle">Total cell number</text>
<line x1="35.70" y1="76.60" x2="95.70" y2="76.60" stroke="#111" stroke-width="1.0" stroke-dasharray="1,1.2"/>
<line x1="35.70" y1="114.10" x2="95.70" y2="114.10" stroke="#111" stroke-width="1.0" stroke-dasharray="1,1.2"/>
<line x1="95.70" y1="76.60" x2="95.70" y2="164.20" stroke="#111" stroke-width="1.0" stroke-dasharray="1,1.2"/>
<polyline points="35.20,156.50 55.80,125.30 60.90,117.90 66.00,113.90 73.20,106.80 79.00,99.60 83.60,93.20 88.10,86.30 93.00,79.60 98.60,72.70 103.60,66.60 110.70,60.00 118.80,53.30 124.70,47.00 132.40,42.20 141.70,36.40 151.00,31.40 161.70,27.60 172.00,26.20 182.60,24.60 204.40,24.60" fill="none" stroke="#111" stroke-width="0.9" />
<polygon points="35.20,152.75 38.95,156.50 35.20,160.25 31.45,156.50" fill="#fff" stroke="#000" stroke-width="0.95" />
<polygon points="55.80,121.55 59.55,125.30 55.80,129.05 52.05,125.30" fill="#fff" stroke="#000" stroke-width="0.95" />
<polygon points="60.90,114.15 64.65,117.90 60.90,121.65 57.15,117.90" fill="#fff" stroke="#000" stroke-width="0.95" />
<polygon points="66.00,110.15 69.75,113.90 66.00,117.65 62.25,113.90" fill="#fff" stroke="#000" stroke-width="0.95" />
<polygon points="73.20,103.05 76.95,106.80 73.20,110.55 69.45,106.80" fill="#fff" stroke="#000" stroke-width="0.95" />
<polygon points="79.00,95.85 82.75,99.60 79.00,103.35 75.25,99.60" fill="#fff" stroke="#000" stroke-width="0.95" />
<polygon points="83.60,89.45 87.35,93.20 83.60,96.95 79.85,93.20" fill="#fff" stroke="#000" stroke-width="0.95" />
<polygon points="88.10,82.55 91.85,86.30 88.10,90.05 84.35,86.30" fill="#fff" stroke="#000" stroke-width="0.95" />
<polygon points="93.00,75.85 96.75,79.60 93.00,83.35 89.25,79.60" fill="#fff" stroke="#000" stroke-width="0.95" />
<polygon points="98.60,68.95 102.35,72.70 98.60,76.45 94.85,72.70" fill="#fff" stroke="#000" stroke-width="0.95" />
<polygon points="103.60,62.85 107.35,66.60 103.60,70.35 99.85,66.60" fill="#fff" stroke="#000" stroke-width="0.95" />
<polygon points="110.70,56.25 114.45,60.00 110.70,63.75 106.95,60.00" fill="#fff" stroke="#000" stroke-width="0.95" />
<polygon points="118.80,49.55 122.55,53.30 118.80,57.05 115.05,53.30" fill="#fff" stroke="#000" stroke-width="0.95" />
<polygon points="124.70,43.25 128.45,47.00 124.70,50.75 120.95,47.00" fill="#fff" stroke="#000" stroke-width="0.95" />
<polygon points="132.40,38.45 136.15,42.20 132.40,45.95 128.65,42.20" fill="#fff" stroke="#000" stroke-width="0.95" />
<polygon points="141.70,32.65 145.45,36.40 141.70,40.15 137.95,36.40" fill="#fff" stroke="#000" stroke-width="0.95" />
<polygon points="151.00,27.65 154.75,31.40 151.00,35.15 147.25,31.40" fill="#fff" stroke="#000" stroke-width="0.95" />
<polygon points="161.70,23.85 165.45,27.60 161.70,31.35 157.95,27.60" fill="#fff" stroke="#000" stroke-width="0.95" />
<polygon points="172.00,22.45 175.75,26.20 172.00,29.95 168.25,26.20" fill="#fff" stroke="#000" stroke-width="0.95" />
<polygon points="182.60,20.85 186.35,24.60 182.60,28.35 178.85,24.60" fill="#fff" stroke="#000" stroke-width="0.95" />
<polygon points="204.40,20.85 208.15,24.60 204.40,28.35 200.65,24.60" fill="#fff" stroke="#000" stroke-width="0.95" />
<polyline points="35.40,162.30 75.30,125.90 80.10,122.80 85.30,119.00 89.60,116.90 94.30,114.80 100.70,112.20 106.50,109.50 117.60,108.40" fill="none" stroke="#111" stroke-width="0.9" />
<polygon points="31.80,159.50 39.00,159.50 35.40,165.50" fill="#fff" stroke="#000" stroke-width="0.95" />
<polygon points="71.70,123.10 78.90,123.10 75.30,129.10" fill="#fff" stroke="#000" stroke-width="0.95" />
<polygon points="76.50,120.00 83.70,120.00 80.10,126.00" fill="#fff" stroke="#000" stroke-width="0.95" />
<polygon points="81.70,116.20 88.90,116.20 85.30,122.20" fill="#fff" stroke="#000" stroke-width="0.95" />
<polygon points="86.00,114.10 93.20,114.10 89.60,120.10" fill="#fff" stroke="#000" stroke-width="0.95" />
<polygon points="90.70,112.00 97.90,112.00 94.30,118.00" fill="#fff" stroke="#000" stroke-width="0.95" />
<polygon points="97.10,109.40 104.30,109.40 100.70,115.40" fill="#fff" stroke="#000" stroke-width="0.95" />
<polygon points="102.90,106.70 110.10,106.70 106.50,112.70" fill="#fff" stroke="#000" stroke-width="0.95" />
<polygon points="114.00,105.60 121.20,105.60 117.60,111.60" fill="#fff" stroke="#000" stroke-width="0.95" />
<text x="184.60" y="38.60" font-size="8.2" font-weight="bold" text-anchor="start" >CORD BLOOD</text>
<text x="125.60" y="111.80" font-size="8.2" font-weight="bold" text-anchor="start" >ADULT BLOOD</text>
<line x1="107.00" y1="76.60" x2="119.80" y2="76.60" stroke="#000" stroke-width="1.4" />
<polygon points="102.90,76.60 109.30,73.40 109.30,79.80" fill="#000" stroke="none" stroke-width="0" />
<text x="122.4" y="79.0" font-size="8.2">10<tspan dy="-3.2" font-size="5.4">14</tspan><tspan dy="3.2"> Cells</tspan></text>
<line x1="102.20" y1="121.20" x2="110.90" y2="129.30" stroke="#000" stroke-width="1.3" />
<polygon points="99.40,118.50 105.60,120.30 101.30,124.80" fill="#000" stroke="none" stroke-width="0" />
<text x="112.7" y="135.2" font-size="8.2">10<tspan dy="-3.2" font-size="5.4">8</tspan><tspan dy="3.2"> Cells</tspan></text>
<line x1="298.80" y1="159.41" x2="300.10" y2="159.41" stroke="#333" stroke-width="0.7" />
<line x1="512.30" y1="159.41" x2="511.00" y2="159.41" stroke="#333" stroke-width="0.7" />
<line x1="298.80" y1="156.43" x2="300.10" y2="156.43" stroke="#333" stroke-width="0.7" />
<line x1="512.30" y1="156.43" x2="511.00" y2="156.43" stroke="#333" stroke-width="0.7" />
<line x1="298.80" y1="153.44" x2="300.10" y2="153.44" stroke="#333" stroke-width="0.7" />
<line x1="512.30" y1="153.44" x2="511.00" y2="153.44" stroke="#333" stroke-width="0.7" />
<line x1="298.80" y1="150.46" x2="300.10" y2="150.46" stroke="#333" stroke-width="0.7" />
<line x1="512.30" y1="150.46" x2="511.00" y2="150.46" stroke="#333" stroke-width="0.7" />
<line x1="298.80" y1="144.48" x2="300.10" y2="144.48" stroke="#333" stroke-width="0.7" />
<line x1="512.30" y1="144.48" x2="511.00" y2="144.48" stroke="#333" stroke-width="0.7" />
<line x1="298.80" y1="141.50" x2="300.10" y2="141.50" stroke="#333" stroke-width="0.7" />
<line x1="512.30" y1="141.50" x2="511.00" y2="141.50" stroke="#333" stroke-width="0.7" />
<line x1="298.80" y1="138.51" x2="300.10" y2="138.51" stroke="#333" stroke-width="0.7" />
<line x1="512.30" y1="138.51" x2="511.00" y2="138.51" stroke="#333" stroke-width="0.7" />
<line x1="298.80" y1="135.53" x2="300.10" y2="135.53" stroke="#333" stroke-width="0.7" />
<line x1="512.30" y1="135.53" x2="511.00" y2="135.53" stroke="#333" stroke-width="0.7" />
<line x1="298.80" y1="129.55" x2="300.10" y2="129.55" stroke="#333" stroke-width="0.7" />
<line x1="512.30" y1="129.55" x2="511.00" y2="129.55" stroke="#333" stroke-width="0.7" />
<line x1="298.80" y1="126.57" x2="300.10" y2="126.57" stroke="#333" stroke-width="0.7" />
<line x1="512.30" y1="126.57" x2="511.00" y2="126.57" stroke="#333" stroke-width="0.7" />
<line x1="298.80" y1="123.58" x2="300.10" y2="123.58" stroke="#333" stroke-width="0.7" />
<line x1="512.30" y1="123.58" x2="511.00" y2="123.58" stroke="#333" stroke-width="0.7" />
<line x1="298.80" y1="120.60" x2="300.10" y2="120.60" stroke="#333" stroke-width="0.7" />
<line x1="512.30" y1="120.60" x2="511.00" y2="120.60" stroke="#333" stroke-width="0.7" />
<line x1="298.80" y1="114.62" x2="300.10" y2="114.62" stroke="#333" stroke-width="0.7" />
<line x1="512.30" y1="114.62" x2="511.00" y2="114.62" stroke="#333" stroke-width="0.7" />
<line x1="298.80" y1="111.64" x2="300.10" y2="111.64" stroke="#333" stroke-width="0.7" />
<line x1="512.30" y1="111.64" x2="511.00" y2="111.64" stroke="#333" stroke-width="0.7" />
<line x1="298.80" y1="108.65" x2="300.10" y2="108.65" stroke="#333" stroke-width="0.7" />
<line x1="512.30" y1="108.65" x2="511.00" y2="108.65" stroke="#333" stroke-width="0.7" />
<line x1="298.80" y1="105.67" x2="300.10" y2="105.67" stroke="#333" stroke-width="0.7" />
<line x1="512.30" y1="105.67" x2="511.00" y2="105.67" stroke="#333" stroke-width="0.7" />
<line x1="298.80" y1="99.69" x2="300.10" y2="99.69" stroke="#333" stroke-width="0.7" />
<line x1="512.30" y1="99.69" x2="511.00" y2="99.69" stroke="#333" stroke-width="0.7" />
<line x1="298.80" y1="96.71" x2="300.10" y2="96.71" stroke="#333" stroke-width="0.7" />
<line x1="512.30" y1="96.71" x2="511.00" y2="96.71" stroke="#333" stroke-width="0.7" />
<line x1="298.80" y1="93.72" x2="300.10" y2="93.72" stroke="#333" stroke-width="0.7" />
<line x1="512.30" y1="93.72" x2="511.00" y2="93.72" stroke="#333" stroke-width="0.7" />
<line x1="298.80" y1="90.74" x2="300.10" y2="90.74" stroke="#333" stroke-width="0.7" />
<line x1="512.30" y1="90.74" x2="511.00" y2="90.74" stroke="#333" stroke-width="0.7" />
<line x1="298.80" y1="84.76" x2="300.10" y2="84.76" stroke="#333" stroke-width="0.7" />
<line x1="512.30" y1="84.76" x2="511.00" y2="84.76" stroke="#333" stroke-width="0.7" />
<line x1="298.80" y1="81.78" x2="300.10" y2="81.78" stroke="#333" stroke-width="0.7" />
<line x1="512.30" y1="81.78" x2="511.00" y2="81.78" stroke="#333" stroke-width="0.7" />
<line x1="298.80" y1="78.79" x2="300.10" y2="78.79" stroke="#333" stroke-width="0.7" />
<line x1="512.30" y1="78.79" x2="511.00" y2="78.79" stroke="#333" stroke-width="0.7" />
<line x1="298.80" y1="75.81" x2="300.10" y2="75.81" stroke="#333" stroke-width="0.7" />
<line x1="512.30" y1="75.81" x2="511.00" y2="75.81" stroke="#333" stroke-width="0.7" />
<line x1="298.80" y1="69.83" x2="300.10" y2="69.83" stroke="#333" stroke-width="0.7" />
<line x1="512.30" y1="69.83" x2="511.00" y2="69.83" stroke="#333" stroke-width="0.7" />
<line x1="298.80" y1="66.85" x2="300.10" y2="66.85" stroke="#333" stroke-width="0.7" />
<line x1="512.30" y1="66.85" x2="511.00" y2="66.85" stroke="#333" stroke-width="0.7" />
<line x1="298.80" y1="63.86" x2="300.10" y2="63.86" stroke="#333" stroke-width="0.7" />
<line x1="512.30" y1="63.86" x2="511.00" y2="63.86" stroke="#333" stroke-width="0.7" />
<line x1="298.80" y1="60.88" x2="300.10" y2="60.88" stroke="#333" stroke-width="0.7" />
<line x1="512.30" y1="60.88" x2="511.00" y2="60.88" stroke="#333" stroke-width="0.7" />
<line x1="298.80" y1="54.90" x2="300.10" y2="54.90" stroke="#333" stroke-width="0.7" />
<line x1="512.30" y1="54.90" x2="511.00" y2="54.90" stroke="#333" stroke-width="0.7" />
<line x1="298.80" y1="51.92" x2="300.10" y2="51.92" stroke="#333" stroke-width="0.7" />
<line x1="512.30" y1="51.92" x2="511.00" y2="51.92" stroke="#333" stroke-width="0.7" />
<line x1="298.80" y1="48.93" x2="300.10" y2="48.93" stroke="#333" stroke-width="0.7" />
<line x1="512.30" y1="48.93" x2="511.00" y2="48.93" stroke="#333" stroke-width="0.7" />
<line x1="298.80" y1="45.95" x2="300.10" y2="45.95" stroke="#333" stroke-width="0.7" />
<line x1="512.30" y1="45.95" x2="511.00" y2="45.95" stroke="#333" stroke-width="0.7" />
<line x1="298.80" y1="39.97" x2="300.10" y2="39.97" stroke="#333" stroke-width="0.7" />
<line x1="512.30" y1="39.97" x2="511.00" y2="39.97" stroke="#333" stroke-width="0.7" />
<line x1="298.80" y1="36.99" x2="300.10" y2="36.99" stroke="#333" stroke-width="0.7" />
<line x1="512.30" y1="36.99" x2="511.00" y2="36.99" stroke="#333" stroke-width="0.7" />
<line x1="298.80" y1="34.00" x2="300.10" y2="34.00" stroke="#333" stroke-width="0.7" />
<line x1="512.30" y1="34.00" x2="511.00" y2="34.00" stroke="#333" stroke-width="0.7" />
<line x1="298.80" y1="31.02" x2="300.10" y2="31.02" stroke="#333" stroke-width="0.7" />
<line x1="512.30" y1="31.02" x2="511.00" y2="31.02" stroke="#333" stroke-width="0.7" />
<line x1="298.80" y1="25.04" x2="300.10" y2="25.04" stroke="#333" stroke-width="0.7" />
<line x1="512.30" y1="25.04" x2="511.00" y2="25.04" stroke="#333" stroke-width="0.7" />
<line x1="298.80" y1="22.06" x2="300.10" y2="22.06" stroke="#333" stroke-width="0.7" />
<line x1="512.30" y1="22.06" x2="511.00" y2="22.06" stroke="#333" stroke-width="0.7" />
<line x1="298.80" y1="19.07" x2="300.10" y2="19.07" stroke="#333" stroke-width="0.7" />
<line x1="512.30" y1="19.07" x2="511.00" y2="19.07" stroke="#333" stroke-width="0.7" />
<line x1="298.80" y1="16.09" x2="300.10" y2="16.09" stroke="#333" stroke-width="0.7" />
<line x1="512.30" y1="16.09" x2="511.00" y2="16.09" stroke="#333" stroke-width="0.7" />
<line x1="296.80" y1="147.47" x2="300.30" y2="147.47" stroke="#000" stroke-width="0.9" />
<line x1="510.50" y1="147.47" x2="512.30" y2="147.47" stroke="#000" stroke-width="0.9" />
<line x1="296.80" y1="132.54" x2="300.30" y2="132.54" stroke="#000" stroke-width="0.9" />
<line x1="510.50" y1="132.54" x2="512.30" y2="132.54" stroke="#000" stroke-width="0.9" />
<line x1="296.80" y1="117.61" x2="300.30" y2="117.61" stroke="#000" stroke-width="0.9" />
<line x1="510.50" y1="117.61" x2="512.30" y2="117.61" stroke="#000" stroke-width="0.9" />
<line x1="296.80" y1="102.68" x2="300.30" y2="102.68" stroke="#000" stroke-width="0.9" />
<line x1="510.50" y1="102.68" x2="512.30" y2="102.68" stroke="#000" stroke-width="0.9" />
<line x1="296.80" y1="87.75" x2="300.30" y2="87.75" stroke="#000" stroke-width="0.9" />
<line x1="510.50" y1="87.75" x2="512.30" y2="87.75" stroke="#000" stroke-width="0.9" />
<line x1="296.80" y1="72.82" x2="300.30" y2="72.82" stroke="#000" stroke-width="0.9" />
<line x1="510.50" y1="72.82" x2="512.30" y2="72.82" stroke="#000" stroke-width="0.9" />
<line x1="296.80" y1="57.89" x2="300.30" y2="57.89" stroke="#000" stroke-width="0.9" />
<line x1="510.50" y1="57.89" x2="512.30" y2="57.89" stroke="#000" stroke-width="0.9" />
<line x1="296.80" y1="42.96" x2="300.30" y2="42.96" stroke="#000" stroke-width="0.9" />
<line x1="510.50" y1="42.96" x2="512.30" y2="42.96" stroke="#000" stroke-width="0.9" />
<line x1="296.80" y1="28.03" x2="300.30" y2="28.03" stroke="#000" stroke-width="0.9" />
<line x1="510.50" y1="28.03" x2="512.30" y2="28.03" stroke="#000" stroke-width="0.9" />
<line x1="312.14" y1="162.40" x2="312.14" y2="161.00" stroke="#333" stroke-width="0.7" />
<line x1="312.14" y1="13.10" x2="312.14" y2="14.50" stroke="#333" stroke-width="0.7" />
<line x1="325.49" y1="160.40" x2="325.49" y2="164.40" stroke="#000" stroke-width="0.9" />
<line x1="325.49" y1="13.10" x2="325.49" y2="14.90" stroke="#000" stroke-width="0.9" />
<line x1="338.83" y1="162.40" x2="338.83" y2="161.00" stroke="#333" stroke-width="0.7" />
<line x1="338.83" y1="13.10" x2="338.83" y2="14.50" stroke="#333" stroke-width="0.7" />
<line x1="352.18" y1="160.40" x2="352.18" y2="164.40" stroke="#000" stroke-width="0.9" />
<line x1="352.18" y1="13.10" x2="352.18" y2="14.90" stroke="#000" stroke-width="0.9" />
<line x1="365.52" y1="162.40" x2="365.52" y2="161.00" stroke="#333" stroke-width="0.7" />
<line x1="365.52" y1="13.10" x2="365.52" y2="14.50" stroke="#333" stroke-width="0.7" />
<line x1="378.86" y1="160.40" x2="378.86" y2="164.40" stroke="#000" stroke-width="0.9" />
<line x1="378.86" y1="13.10" x2="378.86" y2="14.90" stroke="#000" stroke-width="0.9" />
<line x1="392.21" y1="162.40" x2="392.21" y2="161.00" stroke="#333" stroke-width="0.7" />
<line x1="392.21" y1="13.10" x2="392.21" y2="14.50" stroke="#333" stroke-width="0.7" />
<line x1="405.55" y1="160.40" x2="405.55" y2="164.40" stroke="#000" stroke-width="0.9" />
<line x1="405.55" y1="13.10" x2="405.55" y2="14.90" stroke="#000" stroke-width="0.9" />
<line x1="418.89" y1="162.40" x2="418.89" y2="161.00" stroke="#333" stroke-width="0.7" />
<line x1="418.89" y1="13.10" x2="418.89" y2="14.50" stroke="#333" stroke-width="0.7" />
<line x1="432.24" y1="160.40" x2="432.24" y2="164.40" stroke="#000" stroke-width="0.9" />
<line x1="432.24" y1="13.10" x2="432.24" y2="14.90" stroke="#000" stroke-width="0.9" />
<line x1="445.58" y1="162.40" x2="445.58" y2="161.00" stroke="#333" stroke-width="0.7" />
<line x1="445.58" y1="13.10" x2="445.58" y2="14.50" stroke="#333" stroke-width="0.7" />
<line x1="458.92" y1="160.40" x2="458.92" y2="164.40" stroke="#000" stroke-width="0.9" />
<line x1="458.92" y1="13.10" x2="458.92" y2="14.90" stroke="#000" stroke-width="0.9" />
<line x1="472.27" y1="162.40" x2="472.27" y2="161.00" stroke="#333" stroke-width="0.7" />
<line x1="472.27" y1="13.10" x2="472.27" y2="14.50" stroke="#333" stroke-width="0.7" />
<line x1="485.61" y1="160.40" x2="485.61" y2="164.40" stroke="#000" stroke-width="0.9" />
<line x1="485.61" y1="13.10" x2="485.61" y2="14.90" stroke="#000" stroke-width="0.9" />
<line x1="498.96" y1="162.40" x2="498.96" y2="161.00" stroke="#333" stroke-width="0.7" />
<line x1="498.96" y1="13.10" x2="498.96" y2="14.50" stroke="#333" stroke-width="0.7" />
<rect x="298.80" y="13.10" width="213.50" height="149.30" fill="none" stroke="#000" stroke-width="1.1" />
<text x="298.80" y="174.50" font-size="8.2" font-weight="normal" text-anchor="middle" >0</text>
<text x="325.49" y="174.50" font-size="8.2" font-weight="normal" text-anchor="middle" >24</text>
<text x="352.18" y="174.50" font-size="8.2" font-weight="normal" text-anchor="middle" >48</text>
<text x="378.86" y="174.50" font-size="8.2" font-weight="normal" text-anchor="middle" >72</text>
<text x="405.55" y="174.50" font-size="8.2" font-weight="normal" text-anchor="middle" >96</text>
<text x="432.24" y="174.50" font-size="8.2" font-weight="normal" text-anchor="middle" >120</text>
<text x="458.92" y="174.50" font-size="8.2" font-weight="normal" text-anchor="middle" >144</text>
<text x="485.61" y="174.50" font-size="8.2" font-weight="normal" text-anchor="middle" >168</text>
<text x="512.30" y="174.50" font-size="8.2" font-weight="normal" text-anchor="middle" >192</text>
<text x="296.00" y="166.20" font-size="8.2" font-weight="normal" text-anchor="end" >0</text>
<text x="296.00" y="151.27" font-size="8.2" font-weight="normal" text-anchor="end" >1</text>
<text x="296.00" y="136.34" font-size="8.2" font-weight="normal" text-anchor="end" >2</text>
<text x="296.00" y="121.41" font-size="8.2" font-weight="normal" text-anchor="end" >3</text>
<text x="296.00" y="106.48" font-size="8.2" font-weight="normal" text-anchor="end" >4</text>
<text x="296.00" y="91.55" font-size="8.2" font-weight="normal" text-anchor="end" >5</text>
<text x="296.00" y="76.62" font-size="8.2" font-weight="normal" text-anchor="end" >6</text>
<text x="296.00" y="61.69" font-size="8.2" font-weight="normal" text-anchor="end" >7</text>
<text x="296.00" y="46.76" font-size="8.2" font-weight="normal" text-anchor="end" >8</text>
<text x="296.00" y="31.83" font-size="8.2" font-weight="normal" text-anchor="end" >9</text>
<text x="296.00" y="16.90" font-size="8.2" font-weight="normal" text-anchor="end" >10</text>
<text x="405.40" y="187.00" font-size="9.5" font-weight="bold" text-anchor="middle" >Time (hours)</text>
<text transform="translate(279.8,88.9) rotate(-90)" font-size="9.75" font-weight="bold" text-anchor="middle">Cell density (cells x 10<tspan dy="-3" font-size="6">4</tspan><tspan dy="3">/cm</tspan><tspan dy="-3" font-size="6">2</tspan><tspan dy="3">)</tspan></text>
<line x1="351.80" y1="149.71" x2="351.80" y2="152.70" stroke="#444" stroke-width="0.8" />
<line x1="349.80" y1="149.71" x2="353.80" y2="149.71" stroke="#444" stroke-width="0.8" />
<line x1="349.80" y1="152.70" x2="353.80" y2="152.70" stroke="#444" stroke-width="0.8" />
<line x1="377.60" y1="114.18" x2="377.60" y2="120.15" stroke="#444" stroke-width="0.8" />
<line x1="375.60" y1="114.18" x2="379.60" y2="114.18" stroke="#444" stroke-width="0.8" />
<line x1="375.60" y1="120.15" x2="379.60" y2="120.15" stroke="#444" stroke-width="0.8" />
<line x1="403.40" y1="54.31" x2="403.40" y2="91.33" stroke="#444" stroke-width="0.8" />
<line x1="401.40" y1="54.31" x2="405.40" y2="54.31" stroke="#444" stroke-width="0.8" />
<line x1="401.40" y1="91.33" x2="405.40" y2="91.33" stroke="#444" stroke-width="0.8" />
<line x1="433.40" y1="38.78" x2="433.40" y2="62.07" stroke="#444" stroke-width="0.8" />
<line x1="431.40" y1="38.78" x2="435.40" y2="38.78" stroke="#444" stroke-width="0.8" />
<line x1="431.40" y1="62.07" x2="435.40" y2="62.07" stroke="#444" stroke-width="0.8" />
<line x1="459.80" y1="27.13" x2="459.80" y2="51.02" stroke="#444" stroke-width="0.8" />
<line x1="457.80" y1="27.13" x2="461.80" y2="27.13" stroke="#444" stroke-width="0.8" />
<line x1="457.80" y1="51.02" x2="461.80" y2="51.02" stroke="#444" stroke-width="0.8" />
<line x1="492.20" y1="20.27" x2="492.20" y2="56.10" stroke="#444" stroke-width="0.8" />
<line x1="490.20" y1="20.27" x2="494.20" y2="20.27" stroke="#444" stroke-width="0.8" />
<line x1="490.20" y1="56.10" x2="494.20" y2="56.10" stroke="#444" stroke-width="0.8" />
<line x1="351.80" y1="149.26" x2="351.80" y2="152.25" stroke="#444" stroke-width="0.8" />
<line x1="349.80" y1="149.26" x2="353.80" y2="149.26" stroke="#444" stroke-width="0.8" />
<line x1="349.80" y1="152.25" x2="353.80" y2="152.25" stroke="#444" stroke-width="0.8" />
<line x1="377.60" y1="123.58" x2="377.60" y2="129.55" stroke="#444" stroke-width="0.8" />
<line x1="375.60" y1="123.58" x2="379.60" y2="123.58" stroke="#444" stroke-width="0.8" />
<line x1="375.60" y1="129.55" x2="379.60" y2="129.55" stroke="#444" stroke-width="0.8" />
<line x1="403.40" y1="81.03" x2="403.40" y2="95.96" stroke="#444" stroke-width="0.8" />
<line x1="401.40" y1="81.03" x2="405.40" y2="81.03" stroke="#444" stroke-width="0.8" />
<line x1="401.40" y1="95.96" x2="405.40" y2="95.96" stroke="#444" stroke-width="0.8" />
<line x1="433.40" y1="59.83" x2="433.40" y2="85.21" stroke="#444" stroke-width="0.8" />
<line x1="431.40" y1="59.83" x2="435.40" y2="59.83" stroke="#444" stroke-width="0.8" />
<line x1="431.40" y1="85.21" x2="435.40" y2="85.21" stroke="#444" stroke-width="0.8" />
<line x1="459.80" y1="48.48" x2="459.80" y2="87.30" stroke="#444" stroke-width="0.8" />
<line x1="457.80" y1="48.48" x2="461.80" y2="48.48" stroke="#444" stroke-width="0.8" />
<line x1="457.80" y1="87.30" x2="461.80" y2="87.30" stroke="#444" stroke-width="0.8" />
<line x1="492.20" y1="54.61" x2="492.20" y2="76.10" stroke="#444" stroke-width="0.8" />
<line x1="490.20" y1="54.61" x2="494.20" y2="54.61" stroke="#444" stroke-width="0.8" />
<line x1="490.20" y1="76.10" x2="494.20" y2="76.10" stroke="#444" stroke-width="0.8" />
<line x1="351.80" y1="150.46" x2="351.80" y2="153.44" stroke="#444" stroke-width="0.8" />
<line x1="349.80" y1="150.46" x2="353.80" y2="150.46" stroke="#444" stroke-width="0.8" />
<line x1="349.80" y1="153.44" x2="353.80" y2="153.44" stroke="#444" stroke-width="0.8" />
<line x1="377.60" y1="133.14" x2="377.60" y2="137.62" stroke="#444" stroke-width="0.8" />
<line x1="375.60" y1="133.14" x2="379.60" y2="133.14" stroke="#444" stroke-width="0.8" />
<line x1="375.60" y1="137.62" x2="379.60" y2="137.62" stroke="#444" stroke-width="0.8" />
<line x1="403.40" y1="104.92" x2="403.40" y2="117.76" stroke="#444" stroke-width="0.8" />
<line x1="401.40" y1="104.92" x2="405.40" y2="104.92" stroke="#444" stroke-width="0.8" />
<line x1="401.40" y1="117.76" x2="405.40" y2="117.76" stroke="#444" stroke-width="0.8" />
<line x1="433.40" y1="90.59" x2="433.40" y2="104.02" stroke="#444" stroke-width="0.8" />
<line x1="431.40" y1="90.59" x2="435.40" y2="90.59" stroke="#444" stroke-width="0.8" />
<line x1="431.40" y1="104.02" x2="435.40" y2="104.02" stroke="#444" stroke-width="0.8" />
<line x1="459.80" y1="90.44" x2="459.80" y2="103.87" stroke="#444" stroke-width="0.8" />
<line x1="457.80" y1="90.44" x2="461.80" y2="90.44" stroke="#444" stroke-width="0.8" />
<line x1="457.80" y1="103.87" x2="461.80" y2="103.87" stroke="#444" stroke-width="0.8" />
<line x1="492.20" y1="87.00" x2="492.20" y2="103.43" stroke="#444" stroke-width="0.8" />
<line x1="490.20" y1="87.00" x2="494.20" y2="87.00" stroke="#444" stroke-width="0.8" />
<line x1="490.20" y1="103.43" x2="494.20" y2="103.43" stroke="#444" stroke-width="0.8" />
<line x1="351.80" y1="150.75" x2="351.80" y2="153.14" stroke="#444" stroke-width="0.8" />
<line x1="349.80" y1="150.75" x2="353.80" y2="150.75" stroke="#444" stroke-width="0.8" />
<line x1="349.80" y1="153.14" x2="353.80" y2="153.14" stroke="#444" stroke-width="0.8" />
<line x1="377.60" y1="140.45" x2="377.60" y2="143.44" stroke="#444" stroke-width="0.8" />
<line x1="375.60" y1="140.45" x2="379.60" y2="140.45" stroke="#444" stroke-width="0.8" />
<line x1="375.60" y1="143.44" x2="379.60" y2="143.44" stroke="#444" stroke-width="0.8" />
<line x1="403.40" y1="128.81" x2="403.40" y2="133.29" stroke="#444" stroke-width="0.8" />
<line x1="401.40" y1="128.81" x2="405.40" y2="128.81" stroke="#444" stroke-width="0.8" />
<line x1="401.40" y1="133.29" x2="405.40" y2="133.29" stroke="#444" stroke-width="0.8" />
<line x1="433.40" y1="113.43" x2="433.40" y2="126.57" stroke="#444" stroke-width="0.8" />
<line x1="431.40" y1="113.43" x2="435.40" y2="113.43" stroke="#444" stroke-width="0.8" />
<line x1="431.40" y1="126.57" x2="435.40" y2="126.57" stroke="#444" stroke-width="0.8" />
<line x1="459.80" y1="108.80" x2="459.80" y2="122.24" stroke="#444" stroke-width="0.8" />
<line x1="457.80" y1="108.80" x2="461.80" y2="108.80" stroke="#444" stroke-width="0.8" />
<line x1="457.80" y1="122.24" x2="461.80" y2="122.24" stroke="#444" stroke-width="0.8" />
<line x1="492.20" y1="110.00" x2="492.20" y2="117.16" stroke="#444" stroke-width="0.8" />
<line x1="490.20" y1="110.00" x2="494.20" y2="110.00" stroke="#444" stroke-width="0.8" />
<line x1="490.20" y1="117.16" x2="494.20" y2="117.16" stroke="#444" stroke-width="0.8" />
<line x1="351.80" y1="151.50" x2="351.80" y2="153.89" stroke="#444" stroke-width="0.8" />
<line x1="349.80" y1="151.50" x2="353.80" y2="151.50" stroke="#444" stroke-width="0.8" />
<line x1="349.80" y1="153.89" x2="353.80" y2="153.89" stroke="#444" stroke-width="0.8" />
<line x1="377.60" y1="145.98" x2="377.60" y2="148.96" stroke="#444" stroke-width="0.8" />
<line x1="375.60" y1="145.98" x2="379.60" y2="145.98" stroke="#444" stroke-width="0.8" />
<line x1="375.60" y1="148.96" x2="379.60" y2="148.96" stroke="#444" stroke-width="0.8" />
<line x1="403.40" y1="137.17" x2="403.40" y2="140.75" stroke="#444" stroke-width="0.8" />
<line x1="401.40" y1="137.17" x2="405.40" y2="137.17" stroke="#444" stroke-width="0.8" />
<line x1="401.40" y1="140.75" x2="405.40" y2="140.75" stroke="#444" stroke-width="0.8" />
<line x1="433.40" y1="128.21" x2="433.40" y2="134.18" stroke="#444" stroke-width="0.8" />
<line x1="431.40" y1="128.21" x2="435.40" y2="128.21" stroke="#444" stroke-width="0.8" />
<line x1="431.40" y1="134.18" x2="435.40" y2="134.18" stroke="#444" stroke-width="0.8" />
<line x1="459.80" y1="124.78" x2="459.80" y2="131.64" stroke="#444" stroke-width="0.8" />
<line x1="457.80" y1="124.78" x2="461.80" y2="124.78" stroke="#444" stroke-width="0.8" />
<line x1="457.80" y1="131.64" x2="461.80" y2="131.64" stroke="#444" stroke-width="0.8" />
<line x1="492.20" y1="120.30" x2="492.20" y2="132.24" stroke="#444" stroke-width="0.8" />
<line x1="490.20" y1="120.30" x2="494.20" y2="120.30" stroke="#444" stroke-width="0.8" />
<line x1="490.20" y1="132.24" x2="494.20" y2="132.24" stroke="#444" stroke-width="0.8" />
<polyline points="298.80,154.78 300.19,154.78 301.58,154.78 302.97,154.78 304.37,154.78 305.76,154.78 307.15,154.78 308.54,154.78 309.93,154.78 311.32,154.78 312.71,154.78 314.10,154.78 315.50,154.78 316.89,154.78 318.28,154.78 319.67,154.77 321.06,154.77 322.45,154.77 323.84,154.77 325.24,154.77 326.63,154.77 328.02,154.76 329.41,154.75 330.80,154.74 332.19,154.72 333.58,154.69 334.97,154.65 336.37,154.59 337.76,154.52 339.15,154.41 340.54,154.27 341.93,154.09 343.32,153.87 344.71,153.58 346.11,153.23 347.50,152.80 348.89,152.29 350.28,151.68 351.67,150.97 353.06,150.15 354.45,149.22 355.84,148.16 357.24,146.98 358.63,145.66 360.02,144.23 361.41,142.66 362.80,140.97 364.19,139.15 365.58,137.23 366.98,135.19 368.37,133.05 369.76,130.82 371.15,128.51 372.54,126.13 373.93,123.68 375.32,121.19 376.72,118.65 378.11,116.08 379.50,113.50 380.89,110.90 382.28,108.31 383.67,105.72 385.06,103.16 386.45,100.62 387.85,98.11 389.24,95.64 390.63,93.21 392.02,90.84 393.41,88.52 394.80,86.25 396.19,84.05 397.59,81.91 398.98,79.83 400.37,77.83 401.76,75.89 403.15,74.02 404.54,72.21 405.93,70.48 407.32,68.81 408.72,67.21 410.11,65.68 411.50,64.21 412.89,62.80 414.28,61.46 415.67,60.18 417.06,58.96 418.46,57.79 419.85,56.68 421.24,55.62 422.63,54.62 424.02,53.66 425.41,52.75 426.80,51.89 428.19,51.07 429.59,50.29 430.98,49.55 432.37,48.85 433.76,48.19 435.15,47.57 436.54,46.97 437.93,46.41 439.33,45.88 440.72,45.38 442.11,44.90 443.50,44.45 444.89,44.03 446.28,43.62 447.67,43.25 449.06,42.89 450.46,42.55 451.85,42.23 453.24,41.93 454.63,41.64 456.02,41.38 457.41,41.12 458.80,40.88 460.20,40.66 461.59,40.45 462.98,40.25 464.37,40.06 465.76,39.88 467.15,39.71 468.54,39.55 469.93,39.40 471.33,39.26 472.72,39.13 474.11,39.01 475.50,38.89 476.89,38.78 478.28,38.67 479.67,38.57 481.07,38.48 482.46,38.39 483.85,38.31 485.24,38.23 486.63,38.16 488.02,38.09 489.41,38.03 490.81,37.97 492.20,37.91" fill="none" stroke="#333" stroke-width="0.9" />
<polyline points="298.80,154.57 300.19,154.57 301.58,154.57 302.97,154.57 304.37,154.57 305.76,154.57 307.15,154.57 308.54,154.57 309.93,154.57 311.32,154.56 312.71,154.56 314.10,154.56 315.50,154.55 316.89,154.55 318.28,154.54 319.67,154.54 321.06,154.53 322.45,154.52 323.84,154.50 325.24,154.48 326.63,154.46 328.02,154.44 329.41,154.40 330.80,154.36 332.19,154.32 333.58,154.26 334.97,154.19 336.37,154.11 337.76,154.01 339.15,153.89 340.54,153.74 341.93,153.58 343.32,153.38 344.71,153.14 346.11,152.87 347.50,152.55 348.89,152.18 350.28,151.75 351.67,151.27 353.06,150.71 354.45,150.08 355.84,149.37 357.24,148.57 358.63,147.69 360.02,146.70 361.41,145.62 362.80,144.44 364.19,143.16 365.58,141.78 366.98,140.29 368.37,138.70 369.76,137.02 371.15,135.25 372.54,133.39 373.93,131.46 375.32,129.46 376.72,127.40 378.11,125.30 379.50,123.15 380.89,120.97 382.28,118.78 383.67,116.58 385.06,114.39 386.45,112.21 387.85,110.05 389.24,107.92 390.63,105.83 392.02,103.79 393.41,101.80 394.80,99.86 396.19,97.99 397.59,96.18 398.98,94.44 400.37,92.77 401.76,91.18 403.15,89.65 404.54,88.19 405.93,86.81 407.32,85.49 408.72,84.25 410.11,83.07 411.50,81.96 412.89,80.91 414.28,79.92 415.67,78.99 417.06,78.12 418.46,77.30 419.85,76.54 421.24,75.82 422.63,75.15 424.02,74.52 425.41,73.93 426.80,73.39 428.19,72.88 429.59,72.40 430.98,71.96 432.37,71.55 433.76,71.17 435.15,70.81 436.54,70.48 437.93,70.17 439.33,69.89 440.72,69.62 442.11,69.38 443.50,69.15 444.89,68.94 446.28,68.74 447.67,68.56 449.06,68.39 450.46,68.23 451.85,68.09 453.24,67.95 454.63,67.83 456.02,67.71 457.41,67.61 458.80,67.51 460.20,67.42 461.59,67.33 462.98,67.25 464.37,67.18 465.76,67.12 467.15,67.05 468.54,67.00 469.93,66.94 471.33,66.89 472.72,66.85 474.11,66.81 475.50,66.77 476.89,66.73 478.28,66.70 479.67,66.67 481.07,66.64 482.46,66.61 483.85,66.59 485.24,66.57 486.63,66.55 488.02,66.53 489.41,66.51 490.81,66.49 492.20,66.48" fill="none" stroke="#333" stroke-width="0.9" />
<polyline points="298.80,154.83 300.19,154.83 301.58,154.83 302.97,154.82 304.37,154.82 305.76,154.82 307.15,154.81 308.54,154.81 309.93,154.80 311.32,154.79 312.71,154.78 314.10,154.77 315.50,154.76 316.89,154.75 318.28,154.73 319.67,154.71 321.06,154.69 322.45,154.67 323.84,154.64 325.24,154.61 326.63,154.57 328.02,154.53 329.41,154.48 330.80,154.43 332.19,154.37 333.58,154.29 334.97,154.21 336.37,154.12 337.76,154.01 339.15,153.89 340.54,153.75 341.93,153.59 343.32,153.42 344.71,153.22 346.11,152.99 347.50,152.74 348.89,152.45 350.28,152.14 351.67,151.78 353.06,151.39 354.45,150.95 355.84,150.47 357.24,149.94 358.63,149.35 360.02,148.72 361.41,148.02 362.80,147.27 364.19,146.46 365.58,145.59 366.98,144.65 368.37,143.66 369.76,142.60 371.15,141.48 372.54,140.31 373.93,139.09 375.32,137.82 376.72,136.50 378.11,135.15 379.50,133.76 380.89,132.34 382.28,130.91 383.67,129.45 385.06,128.00 386.45,126.54 387.85,125.09 389.24,123.65 390.63,122.23 392.02,120.83 393.41,119.47 394.80,118.14 396.19,116.84 397.59,115.59 398.98,114.38 400.37,113.22 401.76,112.10 403.15,111.03 404.54,110.02 405.93,109.05 407.32,108.14 408.72,107.27 410.11,106.45 411.50,105.68 412.89,104.95 414.28,104.27 415.67,103.63 417.06,103.03 418.46,102.47 419.85,101.95 421.24,101.46 422.63,101.00 424.02,100.58 425.41,100.19 426.80,99.83 428.19,99.49 429.59,99.17 430.98,98.88 432.37,98.61 433.76,98.37 435.15,98.14 436.54,97.92 437.93,97.73 439.33,97.55 440.72,97.38 442.11,97.22 443.50,97.08 444.89,96.95 446.28,96.83 447.67,96.72 449.06,96.62 450.46,96.52 451.85,96.43 453.24,96.35 454.63,96.28 456.02,96.21 457.41,96.15 458.80,96.09 460.20,96.04 461.59,95.99 462.98,95.95 464.37,95.91 465.76,95.87 467.15,95.83 468.54,95.80 469.93,95.77 471.33,95.74 472.72,95.72 474.11,95.70 475.50,95.68 476.89,95.66 478.28,95.64 479.67,95.62 481.07,95.61 482.46,95.59 483.85,95.58 485.24,95.57 486.63,95.56 488.02,95.55 489.41,95.54 490.81,95.53 492.20,95.52" fill="none" stroke="#333" stroke-width="0.9" />
<polyline points="298.80,154.80 300.19,154.80 301.58,154.80 302.97,154.79 304.37,154.79 305.76,154.79 307.15,154.79 308.54,154.78 309.93,154.78 311.32,154.78 312.71,154.77 314.10,154.76 315.50,154.75 316.89,154.74 318.28,154.73 319.67,154.71 321.06,154.69 322.45,154.66 323.84,154.63 325.24,154.60 326.63,154.56 328.02,154.51 329.41,154.46 330.80,154.39 332.19,154.32 333.58,154.24 334.97,154.15 336.37,154.04 337.76,153.92 339.15,153.79 340.54,153.64 341.93,153.47 343.32,153.29 344.71,153.09 346.11,152.87 347.50,152.63 348.89,152.36 350.28,152.08 351.67,151.78 353.06,151.45 354.45,151.11 355.84,150.74 357.24,150.35 358.63,149.93 360.02,149.50 361.41,149.04 362.80,148.56 364.19,148.07 365.58,147.55 366.98,147.02 368.37,146.46 369.76,145.89 371.15,145.31 372.54,144.71 373.93,144.10 375.32,143.47 376.72,142.84 378.11,142.20 379.50,141.55 380.89,140.89 382.28,140.23 383.67,139.56 385.06,138.89 386.45,138.23 387.85,137.56 389.24,136.89 390.63,136.22 392.02,135.56 393.41,134.90 394.80,134.25 396.19,133.61 397.59,132.97 398.98,132.34 400.37,131.72 401.76,131.10 403.15,130.50 404.54,129.91 405.93,129.33 407.32,128.76 408.72,128.20 410.11,127.65 411.50,127.12 412.89,126.59 414.28,126.09 415.67,125.59 417.06,125.10 418.46,124.63 419.85,124.17 421.24,123.73 422.63,123.30 424.02,122.88 425.41,122.47 426.80,122.07 428.19,121.69 429.59,121.32 430.98,120.96 432.37,120.61 433.76,120.27 435.15,119.95 436.54,119.63 437.93,119.33 439.33,119.04 440.72,118.75 442.11,118.48 443.50,118.22 444.89,117.96 446.28,117.72 447.67,117.48 449.06,117.26 450.46,117.04 451.85,116.83 453.24,116.63 454.63,116.43 456.02,116.24 457.41,116.06 458.80,115.89 460.20,115.73 461.59,115.57 462.98,115.41 464.37,115.26 465.76,115.12 467.15,114.99 468.54,114.86 469.93,114.73 471.33,114.61 472.72,114.50 474.11,114.38 475.50,114.28 476.89,114.18 478.28,114.08 479.67,113.98 481.07,113.89 482.46,113.81 483.85,113.73 485.24,113.65 486.63,113.57 488.02,113.50 489.41,113.43 490.81,113.36 492.20,113.30" fill="none" stroke="#333" stroke-width="0.9" />
<polyline points="298.80,154.74 300.19,154.74 301.58,154.73 302.97,154.73 304.37,154.72 305.76,154.72 307.15,154.71 308.54,154.71 309.93,154.70 311.32,154.69 312.71,154.68 314.10,154.67 315.50,154.65 316.89,154.64 318.28,154.62 319.67,154.60 321.06,154.58 322.45,154.56 323.84,154.53 325.24,154.50 326.63,154.47 328.02,154.44 329.41,154.40 330.80,154.35 332.19,154.30 333.58,154.25 334.97,154.19 336.37,154.12 337.76,154.05 339.15,153.97 340.54,153.89 341.93,153.79 343.32,153.69 344.71,153.58 346.11,153.46 347.50,153.33 348.89,153.18 350.28,153.03 351.67,152.87 353.06,152.69 354.45,152.50 355.84,152.30 357.24,152.08 358.63,151.85 360.02,151.61 361.41,151.36 362.80,151.09 364.19,150.80 365.58,150.51 366.98,150.19 368.37,149.87 369.76,149.53 371.15,149.18 372.54,148.81 373.93,148.44 375.32,148.05 376.72,147.65 378.11,147.24 379.50,146.82 380.89,146.39 382.28,145.95 383.67,145.51 385.06,145.06 386.45,144.60 387.85,144.14 389.24,143.68 390.63,143.21 392.02,142.74 393.41,142.27 394.80,141.80 396.19,141.34 397.59,140.87 398.98,140.41 400.37,139.95 401.76,139.49 403.15,139.05 404.54,138.60 405.93,138.16 407.32,137.73 408.72,137.31 410.11,136.89 411.50,136.49 412.89,136.09 414.28,135.70 415.67,135.32 417.06,134.95 418.46,134.59 419.85,134.24 421.24,133.89 422.63,133.56 424.02,133.24 425.41,132.93 426.80,132.63 428.19,132.34 429.59,132.05 430.98,131.78 432.37,131.52 433.76,131.26 435.15,131.02 436.54,130.78 437.93,130.56 439.33,130.34 440.72,130.13 442.11,129.93 443.50,129.74 444.89,129.55 446.28,129.37 447.67,129.20 449.06,129.04 450.46,128.88 451.85,128.73 453.24,128.59 454.63,128.45 456.02,128.32 457.41,128.19 458.80,128.07 460.20,127.96 461.59,127.85 462.98,127.74 464.37,127.64 465.76,127.55 467.15,127.45 468.54,127.37 469.93,127.28 471.33,127.20 472.72,127.13 474.11,127.06 475.50,126.99 476.89,126.92 478.28,126.86 479.67,126.80 481.07,126.74 482.46,126.69 483.85,126.64 485.24,126.59 486.63,126.54 488.02,126.50 489.41,126.46 490.81,126.42 492.20,126.38" fill="none" stroke="#333" stroke-width="0.9" />
<polyline points="298.80,154.64 328.27,154.64 343.28,154.04" fill="none" stroke="#000" stroke-width="1.6" />
<circle cx="298.80" cy="154.64" r="1.85" fill="#000" stroke="#000" stroke-width="0.8"/>
<circle cx="328.10" cy="154.64" r="1.85" fill="#000" stroke="#000" stroke-width="0.8"/>
<circle cx="351.80" cy="151.20" r="1.85" fill="#000" stroke="#000" stroke-width="0.8"/>
<circle cx="377.60" cy="117.16" r="1.85" fill="#000" stroke="#000" stroke-width="0.8"/>
<circle cx="403.40" cy="72.82" r="1.85" fill="#000" stroke="#000" stroke-width="0.8"/>
<circle cx="433.40" cy="50.43" r="1.85" fill="#000" stroke="#000" stroke-width="0.8"/>
<circle cx="459.80" cy="39.08" r="1.85" fill="#000" stroke="#000" stroke-width="0.8"/>
<circle cx="492.20" cy="38.18" r="1.85" fill="#000" stroke="#000" stroke-width="0.8"/>
<circle cx="298.80" cy="154.64" r="1.85" fill="#fff" stroke="#000" stroke-width="0.8"/>
<circle cx="328.10" cy="154.64" r="1.85" fill="#fff" stroke="#000" stroke-width="0.8"/>
<circle cx="351.80" cy="150.75" r="1.85" fill="#fff" stroke="#000" stroke-width="0.8"/>
<circle cx="377.60" cy="126.57" r="1.85" fill="#fff" stroke="#000" stroke-width="0.8"/>
<circle cx="403.40" cy="88.50" r="1.85" fill="#fff" stroke="#000" stroke-width="0.8"/>
<circle cx="433.40" cy="72.52" r="1.85" fill="#fff" stroke="#000" stroke-width="0.8"/>
<circle cx="459.80" cy="67.89" r="1.85" fill="#fff" stroke="#000" stroke-width="0.8"/>
<circle cx="492.20" cy="65.36" r="1.85" fill="#fff" stroke="#000" stroke-width="0.8"/>
<polygon points="296.86,153.16 300.74,153.16 298.80,156.49" fill="#000" stroke="#000" stroke-width="0.8" />
<polygon points="326.16,153.16 330.04,153.16 328.10,156.49" fill="#000" stroke="#000" stroke-width="0.8" />
<polygon points="349.86,150.47 353.74,150.47 351.80,153.80" fill="#000" stroke="#000" stroke-width="0.8" />
<polygon points="375.66,133.90 379.54,133.90 377.60,137.23" fill="#000" stroke="#000" stroke-width="0.8" />
<polygon points="401.46,109.86 405.34,109.86 403.40,113.19" fill="#000" stroke="#000" stroke-width="0.8" />
<polygon points="431.45,95.83 435.34,95.83 433.40,99.16" fill="#000" stroke="#000" stroke-width="0.8" />
<polygon points="457.85,95.68 461.74,95.68 459.80,99.01" fill="#000" stroke="#000" stroke-width="0.8" />
<polygon points="490.25,93.73 494.14,93.73 492.20,97.06" fill="#000" stroke="#000" stroke-width="0.8" />
<polygon points="296.86,153.16 300.74,153.16 298.80,156.49" fill="#fff" stroke="#000" stroke-width="0.8" />
<polygon points="326.16,153.16 330.04,153.16 328.10,156.49" fill="#fff" stroke="#000" stroke-width="0.8" />
<polygon points="349.86,150.47 353.74,150.47 351.80,153.80" fill="#fff" stroke="#000" stroke-width="0.8" />
<polygon points="375.66,140.47 379.54,140.47 377.60,143.80" fill="#fff" stroke="#000" stroke-width="0.8" />
<polygon points="401.46,129.57 405.34,129.57 403.40,132.90" fill="#fff" stroke="#000" stroke-width="0.8" />
<polygon points="431.45,118.52 435.34,118.52 433.40,121.85" fill="#fff" stroke="#000" stroke-width="0.8" />
<polygon points="457.85,114.04 461.74,114.04 459.80,117.37" fill="#fff" stroke="#000" stroke-width="0.8" />
<polygon points="490.25,112.10 494.14,112.10 492.20,115.43" fill="#fff" stroke="#000" stroke-width="0.8" />
<rect x="297.13" y="152.97" width="3.33" height="3.33" fill="#000" stroke="#000" stroke-width="0.8" />
<rect x="326.43" y="152.97" width="3.33" height="3.33" fill="#000" stroke="#000" stroke-width="0.8" />
<rect x="350.13" y="151.03" width="3.33" height="3.33" fill="#000" stroke="#000" stroke-width="0.8" />
<rect x="375.93" y="145.81" width="3.33" height="3.33" fill="#000" stroke="#000" stroke-width="0.8" />
<rect x="401.73" y="137.29" width="3.33" height="3.33" fill="#000" stroke="#000" stroke-width="0.8" />
<rect x="431.73" y="129.53" width="3.33" height="3.33" fill="#000" stroke="#000" stroke-width="0.8" />
<rect x="458.13" y="126.55" width="3.33" height="3.33" fill="#000" stroke="#000" stroke-width="0.8" />
<rect x="490.53" y="124.60" width="3.33" height="3.33" fill="#000" stroke="#000" stroke-width="0.8" />
<line x1="309.00" y1="27.10" x2="332.00" y2="27.10" stroke="#444" stroke-width="1.0" />
<circle cx="320.60" cy="27.10" r="1.95" fill="#000" stroke="#000" stroke-width="0.8"/>
<text x="335.60" y="30.10" font-size="8.4" font-weight="normal" text-anchor="start" >P4</text>
<line x1="309.00" y1="37.60" x2="332.00" y2="37.60" stroke="#444" stroke-width="1.0" />
<circle cx="320.60" cy="37.60" r="1.95" fill="#fff" stroke="#000" stroke-width="0.8"/>
<text x="335.60" y="40.60" font-size="8.4" font-weight="normal" text-anchor="start" >P6</text>
<line x1="309.00" y1="48.30" x2="332.00" y2="48.30" stroke="#444" stroke-width="1.0" />
<polygon points="318.55,46.74 322.65,46.74 320.60,50.25" fill="#000" stroke="#000" stroke-width="0.8" />
<text x="335.60" y="51.30" font-size="8.4" font-weight="normal" text-anchor="start" >P9</text>
<line x1="309.00" y1="59.00" x2="332.00" y2="59.00" stroke="#444" stroke-width="1.0" />
<polygon points="318.55,57.44 322.65,57.44 320.60,60.95" fill="#fff" stroke="#000" stroke-width="0.8" />
<text x="335.60" y="62.00" font-size="8.4" font-weight="normal" text-anchor="start" >P12</text>
<line x1="309.00" y1="69.60" x2="332.00" y2="69.60" stroke="#444" stroke-width="1.0" />
<rect x="318.85" y="67.84" width="3.51" height="3.51" fill="#000" stroke="#000" stroke-width="0.8" />
<text x="335.60" y="72.60" font-size="8.4" font-weight="normal" text-anchor="start" >P15</text>
<clipPath id="clipC"><rect x="36.2" y="208.5" width="213.3" height="148.5"/></clipPath>
<line x1="34.70" y1="334.65" x2="37.70" y2="334.65" stroke="#222" stroke-width="0.8" />
<line x1="248.00" y1="334.65" x2="249.50" y2="334.65" stroke="#222" stroke-width="0.8" />
<line x1="34.70" y1="321.57" x2="37.70" y2="321.57" stroke="#222" stroke-width="0.8" />
<line x1="248.00" y1="321.57" x2="249.50" y2="321.57" stroke="#222" stroke-width="0.8" />
<line x1="34.70" y1="312.30" x2="37.70" y2="312.30" stroke="#222" stroke-width="0.8" />
<line x1="248.00" y1="312.30" x2="249.50" y2="312.30" stroke="#222" stroke-width="0.8" />
<line x1="34.70" y1="305.10" x2="37.70" y2="305.10" stroke="#222" stroke-width="0.8" />
<line x1="248.00" y1="305.10" x2="249.50" y2="305.10" stroke="#222" stroke-width="0.8" />
<line x1="34.70" y1="299.22" x2="37.70" y2="299.22" stroke="#222" stroke-width="0.8" />
<line x1="248.00" y1="299.22" x2="249.50" y2="299.22" stroke="#222" stroke-width="0.8" />
<line x1="34.70" y1="294.25" x2="37.70" y2="294.25" stroke="#222" stroke-width="0.8" />
<line x1="248.00" y1="294.25" x2="249.50" y2="294.25" stroke="#222" stroke-width="0.8" />
<line x1="34.70" y1="289.95" x2="37.70" y2="289.95" stroke="#222" stroke-width="0.8" />
<line x1="248.00" y1="289.95" x2="249.50" y2="289.95" stroke="#222" stroke-width="0.8" />
<line x1="34.70" y1="286.15" x2="37.70" y2="286.15" stroke="#222" stroke-width="0.8" />
<line x1="248.00" y1="286.15" x2="249.50" y2="286.15" stroke="#222" stroke-width="0.8" />
<line x1="34.70" y1="260.40" x2="37.70" y2="260.40" stroke="#222" stroke-width="0.8" />
<line x1="248.00" y1="260.40" x2="249.50" y2="260.40" stroke="#222" stroke-width="0.8" />
<line x1="34.70" y1="247.32" x2="37.70" y2="247.32" stroke="#222" stroke-width="0.8" />
<line x1="248.00" y1="247.32" x2="249.50" y2="247.32" stroke="#222" stroke-width="0.8" />
<line x1="34.70" y1="238.05" x2="37.70" y2="238.05" stroke="#222" stroke-width="0.8" />
<line x1="248.00" y1="238.05" x2="249.50" y2="238.05" stroke="#222" stroke-width="0.8" />
<line x1="34.70" y1="230.85" x2="37.70" y2="230.85" stroke="#222" stroke-width="0.8" />
<line x1="248.00" y1="230.85" x2="249.50" y2="230.85" stroke="#222" stroke-width="0.8" />
<line x1="34.70" y1="224.97" x2="37.70" y2="224.97" stroke="#222" stroke-width="0.8" />
<line x1="248.00" y1="224.97" x2="249.50" y2="224.97" stroke="#222" stroke-width="0.8" />
<line x1="34.70" y1="220.00" x2="37.70" y2="220.00" stroke="#222" stroke-width="0.8" />
<line x1="248.00" y1="220.00" x2="249.50" y2="220.00" stroke="#222" stroke-width="0.8" />
<line x1="34.70" y1="215.70" x2="37.70" y2="215.70" stroke="#222" stroke-width="0.8" />
<line x1="248.00" y1="215.70" x2="249.50" y2="215.70" stroke="#222" stroke-width="0.8" />
<line x1="34.70" y1="211.90" x2="37.70" y2="211.90" stroke="#222" stroke-width="0.8" />
<line x1="248.00" y1="211.90" x2="249.50" y2="211.90" stroke="#222" stroke-width="0.8" />
<line x1="34.20" y1="282.75" x2="38.20" y2="282.75" stroke="#000" stroke-width="0.9" />
<line x1="247.50" y1="282.75" x2="249.50" y2="282.75" stroke="#000" stroke-width="0.9" />
<line x1="49.53" y1="357.00" x2="49.53" y2="355.70" stroke="#333" stroke-width="0.7" />
<line x1="49.53" y1="208.50" x2="49.53" y2="209.80" stroke="#333" stroke-width="0.7" />
<line x1="62.86" y1="359.00" x2="62.86" y2="355.00" stroke="#000" stroke-width="0.9" />
<line x1="62.86" y1="208.50" x2="62.86" y2="210.50" stroke="#000" stroke-width="0.9" />
<line x1="76.19" y1="357.00" x2="76.19" y2="355.70" stroke="#333" stroke-width="0.7" />
<line x1="76.19" y1="208.50" x2="76.19" y2="209.80" stroke="#333" stroke-width="0.7" />
<line x1="89.53" y1="359.00" x2="89.53" y2="355.00" stroke="#000" stroke-width="0.9" />
<line x1="89.53" y1="208.50" x2="89.53" y2="210.50" stroke="#000" stroke-width="0.9" />
<line x1="102.86" y1="357.00" x2="102.86" y2="355.70" stroke="#333" stroke-width="0.7" />
<line x1="102.86" y1="208.50" x2="102.86" y2="209.80" stroke="#333" stroke-width="0.7" />
<line x1="116.19" y1="359.00" x2="116.19" y2="355.00" stroke="#000" stroke-width="0.9" />
<line x1="116.19" y1="208.50" x2="116.19" y2="210.50" stroke="#000" stroke-width="0.9" />
<line x1="129.52" y1="357.00" x2="129.52" y2="355.70" stroke="#333" stroke-width="0.7" />
<line x1="129.52" y1="208.50" x2="129.52" y2="209.80" stroke="#333" stroke-width="0.7" />
<line x1="142.85" y1="359.00" x2="142.85" y2="355.00" stroke="#000" stroke-width="0.9" />
<line x1="142.85" y1="208.50" x2="142.85" y2="210.50" stroke="#000" stroke-width="0.9" />
<line x1="156.18" y1="357.00" x2="156.18" y2="355.70" stroke="#333" stroke-width="0.7" />
<line x1="156.18" y1="208.50" x2="156.18" y2="209.80" stroke="#333" stroke-width="0.7" />
<line x1="169.51" y1="359.00" x2="169.51" y2="355.00" stroke="#000" stroke-width="0.9" />
<line x1="169.51" y1="208.50" x2="169.51" y2="210.50" stroke="#000" stroke-width="0.9" />
<line x1="182.84" y1="357.00" x2="182.84" y2="355.70" stroke="#333" stroke-width="0.7" />
<line x1="182.84" y1="208.50" x2="182.84" y2="209.80" stroke="#333" stroke-width="0.7" />
<line x1="196.18" y1="359.00" x2="196.18" y2="355.00" stroke="#000" stroke-width="0.9" />
<line x1="196.18" y1="208.50" x2="196.18" y2="210.50" stroke="#000" stroke-width="0.9" />
<line x1="209.51" y1="357.00" x2="209.51" y2="355.70" stroke="#333" stroke-width="0.7" />
<line x1="209.51" y1="208.50" x2="209.51" y2="209.80" stroke="#333" stroke-width="0.7" />
<line x1="222.84" y1="359.00" x2="222.84" y2="355.00" stroke="#000" stroke-width="0.9" />
<line x1="222.84" y1="208.50" x2="222.84" y2="210.50" stroke="#000" stroke-width="0.9" />
<line x1="236.17" y1="357.00" x2="236.17" y2="355.70" stroke="#333" stroke-width="0.7" />
<line x1="236.17" y1="208.50" x2="236.17" y2="209.80" stroke="#333" stroke-width="0.7" />
<rect x="36.20" y="208.50" width="213.30" height="148.50" fill="none" stroke="#000" stroke-width="1.1" />
<text x="36.20" y="368.00" font-size="8.2" font-weight="normal" text-anchor="middle" >0</text>
<text x="62.86" y="368.00" font-size="8.2" font-weight="normal" text-anchor="middle" >24</text>
<text x="89.53" y="368.00" font-size="8.2" font-weight="normal" text-anchor="middle" >48</text>
<text x="116.19" y="368.00" font-size="8.2" font-weight="normal" text-anchor="middle" >72</text>
<text x="142.85" y="368.00" font-size="8.2" font-weight="normal" text-anchor="middle" >96</text>
<text x="169.51" y="368.00" font-size="8.2" font-weight="normal" text-anchor="middle" >120</text>
<text x="196.18" y="368.00" font-size="8.2" font-weight="normal" text-anchor="middle" >144</text>
<text x="222.84" y="368.00" font-size="8.2" font-weight="normal" text-anchor="middle" >168</text>
<text x="249.50" y="368.00" font-size="8.2" font-weight="normal" text-anchor="middle" >192</text>
<text x="32.40" y="211.40" font-size="8.2" font-weight="normal" text-anchor="end" >1000</text>
<text x="32.40" y="285.65" font-size="8.2" font-weight="normal" text-anchor="end" >100</text>
<text x="32.40" y="292.85" font-size="8.2" font-weight="normal" text-anchor="end" >80</text>
<text x="32.40" y="302.12" font-size="8.2" font-weight="normal" text-anchor="end" >60</text>
<text x="32.40" y="315.20" font-size="8.2" font-weight="normal" text-anchor="end" >40</text>
<text x="32.40" y="337.55" font-size="8.2" font-weight="normal" text-anchor="end" >20</text>
<text x="32.40" y="359.90" font-size="8.2" font-weight="normal" text-anchor="end" >10</text>
<text x="140.10" y="381.80" font-size="9.5" font-weight="bold" text-anchor="middle" >Time (hours after plating)</text>
<text transform="translate(9.5,286.3) rotate(-90)" font-size="9.6" font-weight="bold" text-anchor="middle">Doubling time (hours)</text>
<g clip-path="url(#clipC)">
<polyline points="69.70,208.50 89.40,324.40 115.20,345.50 140.90,327.30 170.50,289.00 197.30,264.70 218.00,208.50" fill="none" stroke="#222" stroke-width="0.9" stroke-dasharray="2.6,1.6"/>
<polyline points="69.70,208.50 89.40,321.50 115.20,341.20 140.90,330.50 170.50,283.80 197.30,246.60 229.30,216.80" fill="none" stroke="#222" stroke-width="0.9" stroke-dasharray="2.6,1.6"/>
<polyline points="69.90,208.50 89.40,308.40 115.20,338.10 140.90,326.50 170.50,290.00 197.30,262.50 229.30,211.70" fill="none" stroke="#222" stroke-width="0.9" stroke-dasharray="2.6,1.6"/>
<polyline points="69.50,208.50 89.40,313.20 115.20,323.80 140.90,315.50 170.50,300.20 190.60,208.50" fill="none" stroke="#222" stroke-width="0.9" stroke-dasharray="2.6,1.6"/>
<polyline points="75.50,208.50 89.40,294.30 115.20,317.20 140.90,315.50 170.50,297.50 197.30,261.40 229.30,236.30" fill="none" stroke="#222" stroke-width="0.9" stroke-dasharray="2.6,1.6"/>
<polyline points="140.90,327.30 170.50,289.00 197.30,264.70" fill="none" stroke="#222" stroke-width="0.9" />
</g>
<circle cx="89.40" cy="324.40" r="1.90" fill="#000" stroke="#000" stroke-width="0.8"/>
<circle cx="115.20" cy="345.50" r="1.90" fill="#000" stroke="#000" stroke-width="0.8"/>
<circle cx="140.90" cy="327.30" r="1.90" fill="#000" stroke="#000" stroke-width="0.8"/>
<circle cx="170.50" cy="289.00" r="1.90" fill="#000" stroke="#000" stroke-width="0.8"/>
<circle cx="197.30" cy="264.70" r="1.90" fill="#000" stroke="#000" stroke-width="0.8"/>
<circle cx="89.40" cy="321.50" r="1.90" fill="#fff" stroke="#000" stroke-width="0.8"/>
<circle cx="115.20" cy="341.20" r="1.90" fill="#fff" stroke="#000" stroke-width="0.8"/>
<circle cx="140.90" cy="330.50" r="1.90" fill="#fff" stroke="#000" stroke-width="0.8"/>
<circle cx="170.50" cy="283.80" r="1.90" fill="#fff" stroke="#000" stroke-width="0.8"/>
<circle cx="197.30" cy="246.60" r="1.90" fill="#fff" stroke="#000" stroke-width="0.8"/>
<circle cx="229.30" cy="216.80" r="1.90" fill="#fff" stroke="#000" stroke-width="0.8"/>
<polygon points="87.41,306.88 91.40,306.88 89.40,310.30" fill="#000" stroke="#000" stroke-width="0.8" />
<polygon points="113.20,336.58 117.20,336.58 115.20,340.00" fill="#000" stroke="#000" stroke-width="0.8" />
<polygon points="138.91,324.98 142.90,324.98 140.90,328.40" fill="#000" stroke="#000" stroke-width="0.8" />
<polygon points="168.50,288.48 172.50,288.48 170.50,291.90" fill="#000" stroke="#000" stroke-width="0.8" />
<polygon points="195.31,260.98 199.30,260.98 197.30,264.40" fill="#000" stroke="#000" stroke-width="0.8" />
<polygon points="227.31,210.18 231.30,210.18 229.30,213.60" fill="#000" stroke="#000" stroke-width="0.8" />
<polygon points="87.41,311.68 91.40,311.68 89.40,315.10" fill="#fff" stroke="#000" stroke-width="0.8" />
<polygon points="113.20,322.28 117.20,322.28 115.20,325.70" fill="#fff" stroke="#000" stroke-width="0.8" />
<polygon points="138.91,313.98 142.90,313.98 140.90,317.40" fill="#fff" stroke="#000" stroke-width="0.8" />
<polygon points="168.50,298.68 172.50,298.68 170.50,302.10" fill="#fff" stroke="#000" stroke-width="0.8" />
<rect x="87.69" y="292.59" width="3.42" height="3.42" fill="#000" stroke="#000" stroke-width="0.8" />
<rect x="113.49" y="315.49" width="3.42" height="3.42" fill="#000" stroke="#000" stroke-width="0.8" />
<rect x="139.19" y="313.79" width="3.42" height="3.42" fill="#000" stroke="#000" stroke-width="0.8" />
<rect x="168.79" y="295.79" width="3.42" height="3.42" fill="#000" stroke="#000" stroke-width="0.8" />
<rect x="195.59" y="259.69" width="3.42" height="3.42" fill="#000" stroke="#000" stroke-width="0.8" />
<rect x="227.59" y="234.59" width="3.42" height="3.42" fill="#000" stroke="#000" stroke-width="0.8" />
<line x1="200.90" y1="302.30" x2="208.60" y2="302.30" stroke="#222" stroke-width="0.9" stroke-dasharray="2.7,1.8"/>
<line x1="223.60" y1="302.30" x2="215.80" y2="302.30" stroke="#222" stroke-width="0.9" stroke-dasharray="2.7,1.8"/>
<circle cx="212.10" cy="302.30" r="1.90" fill="#000" stroke="#000" stroke-width="0.8"/>
<text x="225.80" y="305.30" font-size="8.4" font-weight="normal" text-anchor="start" >P4</text>
<line x1="200.90" y1="313.00" x2="208.60" y2="313.00" stroke="#222" stroke-width="0.9" stroke-dasharray="2.7,1.8"/>
<line x1="223.60" y1="313.00" x2="215.80" y2="313.00" stroke="#222" stroke-width="0.9" stroke-dasharray="2.7,1.8"/>
<circle cx="212.10" cy="313.00" r="1.90" fill="#fff" stroke="#000" stroke-width="0.8"/>
<text x="225.80" y="316.00" font-size="8.4" font-weight="normal" text-anchor="start" >P6</text>
<line x1="200.90" y1="323.60" x2="208.60" y2="323.60" stroke="#222" stroke-width="0.9" stroke-dasharray="2.7,1.8"/>
<line x1="223.60" y1="323.60" x2="215.80" y2="323.60" stroke="#222" stroke-width="0.9" stroke-dasharray="2.7,1.8"/>
<polygon points="210.10,322.08 214.09,322.08 212.10,325.50" fill="#000" stroke="#000" stroke-width="0.8" />
<text x="225.80" y="326.60" font-size="8.4" font-weight="normal" text-anchor="start" >P9</text>
<line x1="200.90" y1="334.10" x2="208.60" y2="334.10" stroke="#222" stroke-width="0.9" stroke-dasharray="2.7,1.8"/>
<line x1="223.60" y1="334.10" x2="215.80" y2="334.10" stroke="#222" stroke-width="0.9" stroke-dasharray="2.7,1.8"/>
<polygon points="210.10,332.58 214.09,332.58 212.10,336.00" fill="#fff" stroke="#000" stroke-width="0.8" />
<text x="225.80" y="337.10" font-size="8.4" font-weight="normal" text-anchor="start" >P12</text>
<line x1="200.90" y1="344.40" x2="208.60" y2="344.40" stroke="#222" stroke-width="0.9" stroke-dasharray="2.7,1.8"/>
<line x1="223.60" y1="344.40" x2="215.80" y2="344.40" stroke="#222" stroke-width="0.9" stroke-dasharray="2.7,1.8"/>
<rect x="210.39" y="342.69" width="3.42" height="3.42" fill="#000" stroke="#000" stroke-width="0.8" />
<text x="225.80" y="347.40" font-size="8.4" font-weight="normal" text-anchor="start" >P15</text>
<pattern id="hatch" patternUnits="userSpaceOnUse" width="3.2" height="3.2" patternTransform="rotate(45)"><rect width="3.2" height="3.2" fill="#fff"/><line x1="0" y1="0" x2="0" y2="3.2" stroke="#111" stroke-width="1.25"/></pattern>
<line x1="298.80" y1="353.37" x2="300.10" y2="353.37" stroke="#333" stroke-width="0.7" />
<line x1="512.50" y1="353.37" x2="511.20" y2="353.37" stroke="#333" stroke-width="0.7" />
<line x1="298.80" y1="349.24" x2="300.10" y2="349.24" stroke="#333" stroke-width="0.7" />
<line x1="512.50" y1="349.24" x2="511.20" y2="349.24" stroke="#333" stroke-width="0.7" />
<line x1="298.80" y1="345.11" x2="300.10" y2="345.11" stroke="#333" stroke-width="0.7" />
<line x1="512.50" y1="345.11" x2="511.20" y2="345.11" stroke="#333" stroke-width="0.7" />
<line x1="298.80" y1="336.85" x2="300.10" y2="336.85" stroke="#333" stroke-width="0.7" />
<line x1="512.50" y1="336.85" x2="511.20" y2="336.85" stroke="#333" stroke-width="0.7" />
<line x1="298.80" y1="332.72" x2="300.10" y2="332.72" stroke="#333" stroke-width="0.7" />
<line x1="512.50" y1="332.72" x2="511.20" y2="332.72" stroke="#333" stroke-width="0.7" />
<line x1="298.80" y1="328.59" x2="300.10" y2="328.59" stroke="#333" stroke-width="0.7" />
<line x1="512.50" y1="328.59" x2="511.20" y2="328.59" stroke="#333" stroke-width="0.7" />
<line x1="298.80" y1="320.32" x2="300.10" y2="320.32" stroke="#333" stroke-width="0.7" />
<line x1="512.50" y1="320.32" x2="511.20" y2="320.32" stroke="#333" stroke-width="0.7" />
<line x1="298.80" y1="316.19" x2="300.10" y2="316.19" stroke="#333" stroke-width="0.7" />
<line x1="512.50" y1="316.19" x2="511.20" y2="316.19" stroke="#333" stroke-width="0.7" />
<line x1="298.80" y1="312.06" x2="300.10" y2="312.06" stroke="#333" stroke-width="0.7" />
<line x1="512.50" y1="312.06" x2="511.20" y2="312.06" stroke="#333" stroke-width="0.7" />
<line x1="298.80" y1="303.80" x2="300.10" y2="303.80" stroke="#333" stroke-width="0.7" />
<line x1="512.50" y1="303.80" x2="511.20" y2="303.80" stroke="#333" stroke-width="0.7" />
<line x1="298.80" y1="299.67" x2="300.10" y2="299.67" stroke="#333" stroke-width="0.7" />
<line x1="512.50" y1="299.67" x2="511.20" y2="299.67" stroke="#333" stroke-width="0.7" />
<line x1="298.80" y1="295.54" x2="300.10" y2="295.54" stroke="#333" stroke-width="0.7" />
<line x1="512.50" y1="295.54" x2="511.20" y2="295.54" stroke="#333" stroke-width="0.7" />
<line x1="298.80" y1="287.28" x2="300.10" y2="287.28" stroke="#333" stroke-width="0.7" />
<line x1="512.50" y1="287.28" x2="511.20" y2="287.28" stroke="#333" stroke-width="0.7" />
<line x1="298.80" y1="283.15" x2="300.10" y2="283.15" stroke="#333" stroke-width="0.7" />
<line x1="512.50" y1="283.15" x2="511.20" y2="283.15" stroke="#333" stroke-width="0.7" />
<line x1="298.80" y1="279.02" x2="300.10" y2="279.02" stroke="#333" stroke-width="0.7" />
<line x1="512.50" y1="279.02" x2="511.20" y2="279.02" stroke="#333" stroke-width="0.7" />
<line x1="298.80" y1="270.76" x2="300.10" y2="270.76" stroke="#333" stroke-width="0.7" />
<line x1="512.50" y1="270.76" x2="511.20" y2="270.76" stroke="#333" stroke-width="0.7" />
<line x1="298.80" y1="266.63" x2="300.10" y2="266.63" stroke="#333" stroke-width="0.7" />
<line x1="512.50" y1="266.63" x2="511.20" y2="266.63" stroke="#333" stroke-width="0.7" />
<line x1="298.80" y1="262.50" x2="300.10" y2="262.50" stroke="#333" stroke-width="0.7" />
<line x1="512.50" y1="262.50" x2="511.20" y2="262.50" stroke="#333" stroke-width="0.7" />
<line x1="298.80" y1="254.24" x2="300.10" y2="254.24" stroke="#333" stroke-width="0.7" />
<line x1="512.50" y1="254.24" x2="511.20" y2="254.24" stroke="#333" stroke-width="0.7" />
<line x1="298.80" y1="250.11" x2="300.10" y2="250.11" stroke="#333" stroke-width="0.7" />
<line x1="512.50" y1="250.11" x2="511.20" y2="250.11" stroke="#333" stroke-width="0.7" />
<line x1="298.80" y1="245.97" x2="300.10" y2="245.97" stroke="#333" stroke-width="0.7" />
<line x1="512.50" y1="245.97" x2="511.20" y2="245.97" stroke="#333" stroke-width="0.7" />
<line x1="298.80" y1="237.71" x2="300.10" y2="237.71" stroke="#333" stroke-width="0.7" />
<line x1="512.50" y1="237.71" x2="511.20" y2="237.71" stroke="#333" stroke-width="0.7" />
<line x1="298.80" y1="233.58" x2="300.10" y2="233.58" stroke="#333" stroke-width="0.7" />
<line x1="512.50" y1="233.58" x2="511.20" y2="233.58" stroke="#333" stroke-width="0.7" />
<line x1="298.80" y1="229.45" x2="300.10" y2="229.45" stroke="#333" stroke-width="0.7" />
<line x1="512.50" y1="229.45" x2="511.20" y2="229.45" stroke="#333" stroke-width="0.7" />
<line x1="298.80" y1="221.19" x2="300.10" y2="221.19" stroke="#333" stroke-width="0.7" />
<line x1="512.50" y1="221.19" x2="511.20" y2="221.19" stroke="#333" stroke-width="0.7" />
<line x1="298.80" y1="217.06" x2="300.10" y2="217.06" stroke="#333" stroke-width="0.7" />
<line x1="512.50" y1="217.06" x2="511.20" y2="217.06" stroke="#333" stroke-width="0.7" />
<line x1="298.80" y1="212.93" x2="300.10" y2="212.93" stroke="#333" stroke-width="0.7" />
<line x1="512.50" y1="212.93" x2="511.20" y2="212.93" stroke="#333" stroke-width="0.7" />
<line x1="296.80" y1="340.98" x2="300.80" y2="340.98" stroke="#000" stroke-width="0.9" />
<line x1="510.50" y1="340.98" x2="512.50" y2="340.98" stroke="#000" stroke-width="0.9" />
<line x1="296.80" y1="324.46" x2="300.80" y2="324.46" stroke="#000" stroke-width="0.9" />
<line x1="510.50" y1="324.46" x2="512.50" y2="324.46" stroke="#000" stroke-width="0.9" />
<line x1="296.80" y1="307.93" x2="300.80" y2="307.93" stroke="#000" stroke-width="0.9" />
<line x1="510.50" y1="307.93" x2="512.50" y2="307.93" stroke="#000" stroke-width="0.9" />
<line x1="296.80" y1="291.41" x2="300.80" y2="291.41" stroke="#000" stroke-width="0.9" />
<line x1="510.50" y1="291.41" x2="512.50" y2="291.41" stroke="#000" stroke-width="0.9" />
<line x1="296.80" y1="274.89" x2="300.80" y2="274.89" stroke="#000" stroke-width="0.9" />
<line x1="510.50" y1="274.89" x2="512.50" y2="274.89" stroke="#000" stroke-width="0.9" />
<line x1="296.80" y1="258.37" x2="300.80" y2="258.37" stroke="#000" stroke-width="0.9" />
<line x1="510.50" y1="258.37" x2="512.50" y2="258.37" stroke="#000" stroke-width="0.9" />
<line x1="296.80" y1="241.84" x2="300.80" y2="241.84" stroke="#000" stroke-width="0.9" />
<line x1="510.50" y1="241.84" x2="512.50" y2="241.84" stroke="#000" stroke-width="0.9" />
<line x1="296.80" y1="225.32" x2="300.80" y2="225.32" stroke="#000" stroke-width="0.9" />
<line x1="510.50" y1="225.32" x2="512.50" y2="225.32" stroke="#000" stroke-width="0.9" />
<rect x="298.80" y="208.80" width="213.70" height="148.70" fill="none" stroke="#000" stroke-width="1.1" />
<text x="295.40" y="360.40" font-size="8.4" font-weight="normal" text-anchor="end" >0.0</text>
<text x="295.40" y="343.88" font-size="8.4" font-weight="normal" text-anchor="end" >0.2</text>
<text x="295.40" y="327.36" font-size="8.4" font-weight="normal" text-anchor="end" >0.4</text>
<text x="295.40" y="310.83" font-size="8.4" font-weight="normal" text-anchor="end" >0.6</text>
<text x="295.40" y="294.31" font-size="8.4" font-weight="normal" text-anchor="end" >0.8</text>
<text x="295.40" y="277.79" font-size="8.4" font-weight="normal" text-anchor="end" >1.0</text>
<text x="295.40" y="261.27" font-size="8.4" font-weight="normal" text-anchor="end" >1.2</text>
<text x="295.40" y="244.74" font-size="8.4" font-weight="normal" text-anchor="end" >1.4</text>
<text x="295.40" y="228.22" font-size="8.4" font-weight="normal" text-anchor="end" >1.6</text>
<text x="295.40" y="211.70" font-size="8.4" font-weight="normal" text-anchor="end" >1.8</text>
<line x1="324.40" y1="327.76" x2="324.40" y2="336.02" stroke="#444" stroke-width="0.9" />
<line x1="322.20" y1="327.76" x2="326.60" y2="327.76" stroke="#444" stroke-width="0.9" />
<line x1="334.40" y1="345.11" x2="334.40" y2="346.26" stroke="#444" stroke-width="0.9" />
<line x1="332.20" y1="345.11" x2="336.60" y2="345.11" stroke="#444" stroke-width="0.9" />
<rect x="319.40" y="336.02" width="10.00" height="21.48" fill="url(#hatch)" stroke="#222" stroke-width="0.9" />
<rect x="329.40" y="346.26" width="10.00" height="11.24" fill="#000" stroke="#000" stroke-width="0.9" />
<line x1="329.40" y1="357.50" x2="329.40" y2="359.70" stroke="#000" stroke-width="0.9" />
<text x="329.40" y="368.60" font-size="8.4" font-weight="normal" text-anchor="middle" >P4</text>
<line x1="355.00" y1="320.08" x2="355.00" y2="329.41" stroke="#444" stroke-width="0.9" />
<line x1="352.80" y1="320.08" x2="357.20" y2="320.08" stroke="#444" stroke-width="0.9" />
<line x1="365.00" y1="342.63" x2="365.00" y2="344.86" stroke="#444" stroke-width="0.9" />
<line x1="362.80" y1="342.63" x2="367.20" y2="342.63" stroke="#444" stroke-width="0.9" />
<rect x="350.00" y="329.41" width="10.00" height="28.09" fill="url(#hatch)" stroke="#222" stroke-width="0.9" />
<rect x="360.00" y="344.86" width="10.00" height="12.64" fill="#000" stroke="#000" stroke-width="0.9" />
<line x1="360.00" y1="357.50" x2="360.00" y2="359.70" stroke="#000" stroke-width="0.9" />
<text x="360.00" y="368.60" font-size="8.4" font-weight="normal" text-anchor="middle" >P6</text>
<line x1="385.50" y1="314.13" x2="385.50" y2="323.63" stroke="#444" stroke-width="0.9" />
<line x1="383.30" y1="314.13" x2="387.70" y2="314.13" stroke="#444" stroke-width="0.9" />
<line x1="395.50" y1="342.63" x2="395.50" y2="344.86" stroke="#444" stroke-width="0.9" />
<line x1="393.30" y1="342.63" x2="397.70" y2="342.63" stroke="#444" stroke-width="0.9" />
<rect x="380.50" y="323.63" width="10.00" height="33.87" fill="url(#hatch)" stroke="#222" stroke-width="0.9" />
<rect x="390.50" y="344.86" width="10.00" height="12.64" fill="#000" stroke="#000" stroke-width="0.9" />
<line x1="390.50" y1="357.50" x2="390.50" y2="359.70" stroke="#000" stroke-width="0.9" />
<text x="390.50" y="368.60" font-size="8.4" font-weight="normal" text-anchor="middle" >P9</text>
<line x1="416.00" y1="288.93" x2="416.00" y2="306.28" stroke="#444" stroke-width="0.9" />
<line x1="413.80" y1="288.93" x2="418.20" y2="288.93" stroke="#444" stroke-width="0.9" />
<line x1="426.00" y1="340.98" x2="426.00" y2="344.86" stroke="#444" stroke-width="0.9" />
<line x1="423.80" y1="340.98" x2="428.20" y2="340.98" stroke="#444" stroke-width="0.9" />
<rect x="411.00" y="306.28" width="10.00" height="51.22" fill="url(#hatch)" stroke="#222" stroke-width="0.9" />
<rect x="421.00" y="344.86" width="10.00" height="12.64" fill="#000" stroke="#000" stroke-width="0.9" />
<line x1="421.00" y1="357.50" x2="421.00" y2="359.70" stroke="#000" stroke-width="0.9" />
<text x="421.00" y="368.60" font-size="8.4" font-weight="normal" text-anchor="middle" >P12</text>
<line x1="446.30" y1="256.14" x2="446.30" y2="288.93" stroke="#444" stroke-width="0.9" />
<line x1="444.10" y1="256.14" x2="448.50" y2="256.14" stroke="#444" stroke-width="0.9" />
<line x1="456.30" y1="341.80" x2="456.30" y2="344.86" stroke="#444" stroke-width="0.9" />
<line x1="454.10" y1="341.80" x2="458.50" y2="341.80" stroke="#444" stroke-width="0.9" />
<rect x="441.30" y="288.93" width="10.00" height="68.57" fill="url(#hatch)" stroke="#222" stroke-width="0.9" />
<rect x="451.30" y="344.86" width="10.00" height="12.64" fill="#000" stroke="#000" stroke-width="0.9" />
<line x1="451.30" y1="357.50" x2="451.30" y2="359.70" stroke="#000" stroke-width="0.9" />
<text x="451.30" y="368.60" font-size="8.4" font-weight="normal" text-anchor="middle" >P15</text>
<line x1="476.50" y1="224.99" x2="476.50" y2="274.89" stroke="#444" stroke-width="0.9" />
<line x1="474.30" y1="224.99" x2="478.70" y2="224.99" stroke="#444" stroke-width="0.9" />
<line x1="486.50" y1="340.98" x2="486.50" y2="345.11" stroke="#444" stroke-width="0.9" />
<line x1="484.30" y1="340.98" x2="488.70" y2="340.98" stroke="#444" stroke-width="0.9" />
<rect x="471.50" y="274.89" width="10.00" height="82.61" fill="url(#hatch)" stroke="#222" stroke-width="0.9" />
<rect x="481.50" y="345.11" width="10.00" height="12.39" fill="#000" stroke="#000" stroke-width="0.9" />
<line x1="481.50" y1="357.50" x2="481.50" y2="359.70" stroke="#000" stroke-width="0.9" />
<text x="481.50" y="368.60" font-size="8.4" font-weight="normal" text-anchor="middle" >HDMEC</text>
<polygon points="324.40,318.16 325.05,319.87 326.87,319.96 325.45,321.10 325.93,322.86 324.40,321.86 322.87,322.86 323.35,321.10 321.93,319.96 323.75,319.87" fill="#000" stroke="#000" stroke-width="0.3" />
<polygon points="355.00,310.48 355.65,312.19 357.47,312.27 356.05,313.42 356.53,315.18 355.00,314.18 353.47,315.18 353.95,313.42 352.53,312.27 354.35,312.19" fill="#000" stroke="#000" stroke-width="0.3" />
<polygon points="385.50,304.53 386.15,306.24 387.97,306.33 386.55,307.47 387.03,309.23 385.50,308.23 383.97,309.23 384.45,307.47 383.03,306.33 384.85,306.24" fill="#000" stroke="#000" stroke-width="0.3" />
<polygon points="416.00,279.33 416.65,281.04 418.47,281.13 417.05,282.27 417.53,284.04 416.00,283.03 414.47,284.04 414.95,282.27 413.53,281.13 415.35,281.04" fill="#000" stroke="#000" stroke-width="0.3" />
<line x1="320.60" y1="372.80" x2="460.80" y2="372.80" stroke="#000" stroke-width="1.3" />
<text x="390.50" y="384.30" font-size="9.7" font-weight="bold" text-anchor="middle" >cbEPC</text>
<text transform="translate(277.6,283.1) rotate(-90)" font-size="9.7" font-weight="bold" text-anchor="middle">Normalized mean area</text>
<rect x="309.60" y="217.50" width="22.00" height="5.80" fill="url(#hatch)" stroke="#222" stroke-width="0.9" />
<rect x="309.60" y="229.60" width="22.00" height="5.80" fill="#000" stroke="#000" stroke-width="0.9" />
<text x="337.00" y="223.60" font-size="9.85" font-weight="normal" text-anchor="start" >Whole cell</text>
<text x="337.00" y="235.60" font-size="9.85" font-weight="normal" text-anchor="start" >Cell nucleus</text>
</svg>
</body></html>
